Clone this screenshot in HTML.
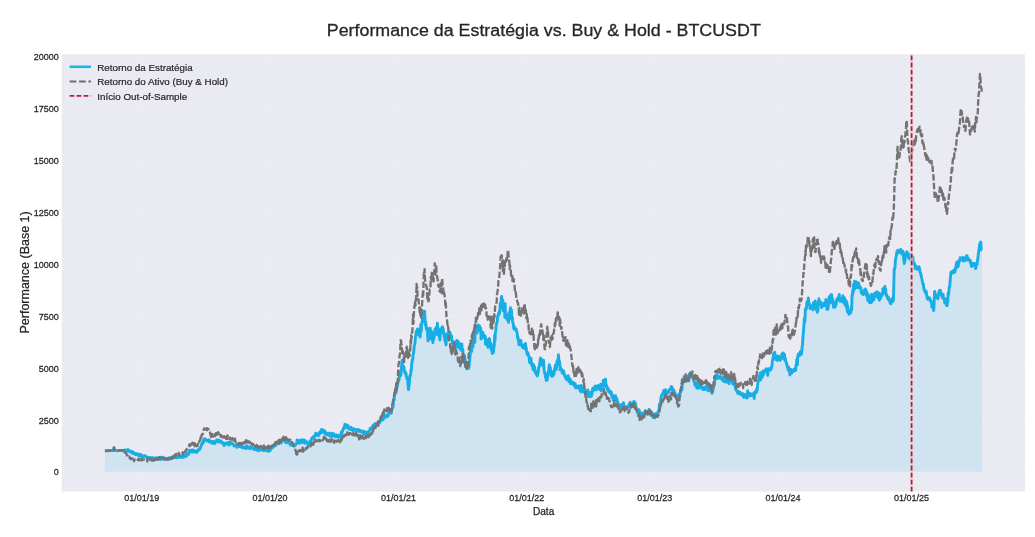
<!DOCTYPE html>
<html><head><meta charset="utf-8"><title>Performance da Estratégia vs. Buy &amp; Hold - BTCUSDT</title>
<style>html,body{margin:0;padding:0;background:#fff;overflow:hidden}svg{display:block;will-change:transform}</style></head>
<body><svg width="1035" height="537" viewBox="0 0 1035 537"><rect x="0" y="0" width="1035" height="537" fill="#ffffff"/><rect x="61.7" y="54.2" width="963.2" height="437.4" fill="#eaeaf2"/><g stroke="#ededf4" stroke-width="1"><line x1="141.70" y1="54.2" x2="141.70" y2="491.6"/><line x1="269.90" y1="54.2" x2="269.90" y2="491.6"/><line x1="398.45" y1="54.2" x2="398.45" y2="491.6"/><line x1="526.65" y1="54.2" x2="526.65" y2="491.6"/><line x1="654.85" y1="54.2" x2="654.85" y2="491.6"/><line x1="783.05" y1="54.2" x2="783.05" y2="491.6"/><line x1="911.60" y1="54.2" x2="911.60" y2="491.6"/><line x1="61.7" y1="471.70" x2="1024.9" y2="471.70"/><line x1="61.7" y1="419.81" x2="1024.9" y2="419.81"/><line x1="61.7" y1="367.93" x2="1024.9" y2="367.93"/><line x1="61.7" y1="316.04" x2="1024.9" y2="316.04"/><line x1="61.7" y1="264.15" x2="1024.9" y2="264.15"/><line x1="61.7" y1="212.26" x2="1024.9" y2="212.26"/><line x1="61.7" y1="160.38" x2="1024.9" y2="160.38"/><line x1="61.7" y1="108.49" x2="1024.9" y2="108.49"/><line x1="61.7" y1="56.60" x2="1024.9" y2="56.60"/></g><path d="M104.9,471.7 L104.9,450.7 L107.0,450.8 L110.0,450.5 L113.4,450.6 L114.0,447.6 L114.6,450.4 L117.0,450.7 L120.0,450.4 L123.2,450.4 L123.6,450.8 L123.9,451.4 L124.3,450.5 L124.7,451.1 L125.0,449.8 L125.4,450.3 L125.7,450.6 L126.1,450.9 L126.5,451.0 L126.8,451.3 L127.2,450.1 L127.5,450.6 L127.9,449.5 L128.3,450.8 L128.6,450.2 L129.0,451.3 L129.4,451.2 L129.7,451.2 L130.1,451.0 L130.4,450.9 L130.8,451.9 L131.2,451.5 L131.5,452.7 L131.9,452.5 L132.3,451.5 L132.6,453.3 L133.0,452.2 L133.4,452.6 L133.7,452.7 L134.1,453.6 L134.4,452.9 L134.8,453.6 L135.2,454.4 L135.5,453.9 L135.9,453.9 L136.2,453.7 L136.6,454.0 L137.0,454.2 L137.3,453.9 L137.7,454.5 L138.1,455.3 L138.4,454.5 L138.8,454.3 L139.1,456.1 L139.5,455.2 L139.9,454.4 L140.2,456.2 L140.6,455.3 L141.0,455.4 L141.3,454.8 L141.7,456.2 L142.1,456.0 L142.4,456.6 L142.8,456.8 L143.1,456.0 L143.5,456.2 L143.9,455.9 L144.2,456.2 L144.6,455.8 L144.9,456.3 L145.3,455.8 L145.7,457.1 L146.0,457.0 L146.4,457.1 L146.7,456.7 L147.1,457.6 L147.4,457.0 L147.7,458.0 L148.0,457.5 L148.4,457.5 L148.7,457.7 L149.0,457.5 L149.4,457.4 L149.7,457.5 L150.0,458.4 L150.3,458.4 L150.7,457.7 L151.0,458.2 L151.3,458.1 L151.7,458.3 L152.0,458.8 L152.3,457.4 L152.6,458.9 L153.0,459.0 L153.3,458.8 L153.6,458.6 L154.0,459.1 L154.3,458.1 L154.6,458.9 L155.0,458.9 L155.3,458.5 L155.6,458.6 L156.0,458.8 L156.3,457.7 L156.6,458.5 L157.0,458.0 L157.3,458.2 L157.6,458.8 L158.0,458.4 L158.3,459.2 L158.6,457.8 L159.0,458.9 L159.3,457.7 L159.6,459.1 L160.0,458.2 L160.3,458.2 L160.6,458.3 L161.0,459.6 L161.3,457.3 L161.6,458.5 L162.0,458.0 L162.3,458.6 L162.6,458.4 L163.0,457.6 L163.3,457.3 L163.6,458.7 L164.0,458.6 L164.3,458.5 L164.6,459.0 L164.9,458.5 L165.3,459.2 L165.6,458.3 L165.9,459.1 L166.3,458.9 L166.6,458.4 L166.9,458.9 L167.3,458.6 L167.6,458.5 L167.9,458.2 L168.3,459.0 L168.6,458.8 L168.9,458.1 L169.3,459.1 L169.6,458.8 L170.0,459.0 L170.3,458.1 L170.7,458.6 L171.1,457.3 L171.4,457.8 L171.8,458.5 L172.1,457.9 L172.5,457.6 L172.9,457.8 L173.2,456.6 L173.6,456.0 L173.9,457.2 L174.3,456.0 L174.7,456.6 L175.0,456.0 L175.4,456.5 L175.8,456.4 L176.1,457.8 L176.5,456.9 L176.9,457.7 L177.2,457.6 L177.6,456.1 L177.9,455.9 L178.3,456.6 L178.7,455.8 L179.0,457.3 L179.4,457.1 L179.8,455.7 L180.1,456.4 L180.5,456.8 L180.8,457.1 L181.2,456.8 L181.5,457.2 L181.9,457.2 L182.2,457.5 L182.5,456.5 L182.8,456.5 L183.2,456.2 L183.5,456.4 L183.8,456.9 L184.2,456.7 L184.5,456.8 L184.8,455.5 L185.1,454.9 L185.5,456.1 L185.8,455.9 L186.1,455.3 L186.5,456.2 L186.8,453.6 L187.1,455.3 L187.4,453.7 L187.8,453.6 L188.1,453.3 L188.4,453.9 L188.8,454.2 L189.1,451.1 L189.4,451.9 L189.7,450.1 L190.1,451.4 L190.4,450.7 L190.7,450.5 L191.1,450.9 L191.4,450.8 L191.7,452.0 L192.1,450.1 L192.4,449.7 L192.7,450.9 L193.1,450.9 L193.4,452.2 L193.7,450.4 L194.1,451.6 L194.4,450.8 L194.7,450.7 L195.1,451.1 L195.4,450.7 L195.7,451.7 L196.1,451.6 L196.4,452.5 L196.7,452.0 L197.1,451.0 L197.4,451.3 L197.8,451.0 L198.1,450.0 L198.5,450.3 L198.8,449.1 L199.2,449.0 L199.5,448.5 L199.8,449.4 L200.2,448.7 L200.6,447.0 L200.9,446.7 L201.2,445.5 L201.6,445.0 L201.9,443.6 L202.3,442.8 L202.6,442.9 L202.9,441.6 L203.3,443.0 L203.6,439.8 L204.0,439.3 L204.3,439.1 L204.7,438.6 L205.0,439.1 L205.4,440.3 L205.8,439.8 L206.1,439.8 L206.5,439.7 L206.8,440.5 L207.2,440.5 L207.6,441.1 L207.9,441.1 L208.3,441.2 L208.6,441.6 L209.0,439.8 L209.4,441.6 L209.7,441.8 L210.1,441.9 L210.5,442.1 L210.8,441.1 L211.2,442.3 L211.6,442.7 L212.0,443.1 L212.3,442.8 L212.7,442.6 L213.1,441.4 L213.5,441.4 L213.8,442.9 L214.2,443.0 L214.6,443.6 L214.9,442.9 L215.3,442.0 L215.7,441.4 L216.0,441.8 L216.3,441.9 L216.7,439.8 L217.0,440.3 L217.4,441.4 L217.8,440.4 L218.1,440.1 L218.4,439.8 L218.8,442.0 L219.1,440.6 L219.4,440.6 L219.8,442.0 L220.1,440.9 L220.4,441.5 L220.8,441.9 L221.1,441.0 L221.4,442.4 L221.8,442.5 L222.1,443.1 L222.4,442.7 L222.8,442.8 L223.1,443.2 L223.4,442.7 L223.8,444.5 L224.1,445.5 L224.4,443.6 L224.8,443.5 L225.1,444.2 L225.4,443.6 L225.8,444.1 L226.1,443.9 L226.4,444.1 L226.7,443.1 L227.1,443.6 L227.4,443.3 L227.7,443.2 L228.1,442.8 L228.4,442.2 L228.7,443.5 L229.0,445.0 L229.4,443.0 L229.7,442.4 L230.1,442.1 L230.4,443.1 L230.8,442.0 L231.1,443.9 L231.5,443.0 L231.9,443.4 L232.2,444.1 L232.6,443.9 L233.0,444.2 L233.3,444.4 L233.7,444.7 L234.1,446.1 L234.4,445.3 L234.8,445.2 L235.1,444.8 L235.5,445.3 L235.8,445.8 L236.2,445.5 L236.5,445.4 L236.8,447.3 L237.2,446.4 L237.5,446.3 L237.8,445.9 L238.2,446.4 L238.5,445.8 L238.8,445.8 L239.2,446.7 L239.5,446.6 L239.8,445.7 L240.2,446.5 L240.5,446.6 L240.8,446.7 L241.2,445.5 L241.5,447.2 L241.8,446.9 L242.2,446.8 L242.5,447.1 L242.9,447.6 L243.2,448.1 L243.6,447.6 L243.9,447.4 L244.3,447.0 L244.7,446.7 L245.0,447.1 L245.4,447.1 L245.8,448.6 L246.1,447.4 L246.5,448.2 L246.9,445.8 L247.2,447.9 L247.6,446.3 L247.9,446.6 L248.3,447.1 L248.7,448.2 L249.0,447.8 L249.4,447.7 L249.8,447.6 L250.1,448.9 L250.5,446.6 L250.8,447.3 L251.2,448.0 L251.6,447.8 L251.9,447.2 L252.3,447.8 L252.6,448.3 L253.0,448.1 L253.4,448.1 L253.7,449.3 L254.1,448.8 L254.4,449.0 L254.8,448.8 L255.1,449.3 L255.4,449.1 L255.8,449.4 L256.1,449.8 L256.5,448.5 L256.8,449.0 L257.1,449.2 L257.5,449.3 L257.8,448.2 L258.1,450.8 L258.5,448.8 L258.8,448.4 L259.2,450.4 L259.5,449.2 L259.8,449.8 L260.2,448.7 L260.5,450.4 L260.9,449.2 L261.2,448.4 L261.5,449.5 L261.9,449.6 L262.2,449.4 L262.5,449.2 L262.9,449.8 L263.2,449.3 L263.5,450.7 L263.8,448.9 L264.2,449.4 L264.5,449.8 L264.8,449.7 L265.2,449.8 L265.5,450.6 L265.8,450.8 L266.1,449.9 L266.5,450.1 L266.8,450.2 L267.1,450.3 L267.5,450.5 L267.8,449.7 L268.1,450.6 L268.4,451.4 L268.8,450.8 L269.1,450.6 L269.4,449.7 L269.8,449.2 L270.1,450.8 L270.4,448.6 L270.8,448.9 L271.1,448.8 L271.5,448.2 L271.8,447.3 L272.1,446.2 L272.5,447.8 L272.8,446.2 L273.1,445.5 L273.5,445.0 L273.8,445.9 L274.2,445.6 L274.5,445.0 L274.9,445.9 L275.2,445.4 L275.6,444.0 L276.0,445.3 L276.3,444.4 L276.7,443.9 L277.1,443.3 L277.4,442.9 L277.8,443.1 L278.2,442.5 L278.5,441.0 L278.9,443.4 L279.2,442.7 L279.6,441.9 L279.9,440.7 L280.3,442.6 L280.6,441.4 L280.9,442.0 L281.2,443.0 L281.6,440.3 L281.9,440.7 L282.2,440.4 L282.6,440.6 L282.9,438.4 L283.2,439.5 L283.5,440.1 L283.9,438.9 L284.2,439.5 L284.6,439.6 L284.9,440.0 L285.3,442.3 L285.6,441.8 L286.0,442.4 L286.4,442.2 L286.7,442.8 L287.1,441.2 L287.5,441.2 L287.8,442.3 L288.2,441.3 L288.6,441.5 L288.9,442.4 L289.3,440.4 L289.6,443.6 L290.0,443.0 L290.3,445.1 L290.7,442.3 L291.0,444.3 L291.3,443.7 L291.6,442.5 L292.0,445.4 L292.3,444.4 L292.6,443.7 L293.0,444.9 L293.3,443.8 L293.6,445.5 L293.9,445.5 L294.3,445.3 L294.6,445.9 L295.0,445.5 L295.3,445.2 L295.7,444.3 L296.0,443.9 L296.4,443.6 L296.7,443.8 L297.1,439.9 L297.4,441.7 L297.8,440.7 L298.1,441.3 L298.5,441.7 L298.8,440.5 L299.2,442.0 L299.6,443.2 L299.9,440.8 L300.3,442.3 L300.6,440.3 L301.0,441.3 L301.4,442.7 L301.7,440.7 L302.1,441.9 L302.4,439.7 L302.8,440.9 L303.2,442.3 L303.5,441.1 L303.9,441.3 L304.2,439.9 L304.6,443.2 L304.9,441.5 L305.2,442.7 L305.6,440.9 L305.9,442.2 L306.2,443.1 L306.6,442.3 L306.9,442.1 L307.3,443.3 L307.6,443.6 L307.9,444.3 L308.3,445.2 L308.6,444.8 L308.9,443.2 L309.3,443.3 L309.6,444.0 L309.9,441.1 L310.2,442.9 L310.6,441.3 L310.9,440.8 L311.2,440.6 L311.6,438.5 L311.9,439.4 L312.2,438.7 L312.5,437.6 L312.9,437.3 L313.2,436.7 L313.6,436.7 L313.9,437.7 L314.3,435.9 L314.6,437.1 L315.0,436.4 L315.4,435.7 L315.7,433.3 L316.1,434.9 L316.5,434.1 L316.8,434.8 L317.2,435.1 L317.6,435.3 L317.9,434.8 L318.3,435.7 L318.6,433.5 L319.0,433.2 L319.3,432.6 L319.7,434.1 L320.0,432.3 L320.3,431.7 L320.7,431.8 L321.0,431.8 L321.3,429.6 L321.7,432.5 L322.0,429.8 L322.3,431.3 L322.7,431.0 L323.0,430.3 L323.4,430.0 L323.7,430.9 L324.1,431.8 L324.4,433.0 L324.8,432.3 L325.2,431.3 L325.5,433.9 L325.9,433.2 L326.3,434.5 L326.6,433.1 L327.0,433.8 L327.3,433.7 L327.7,434.5 L328.0,433.9 L328.4,435.1 L328.7,433.2 L329.1,435.2 L329.5,433.3 L329.8,434.0 L330.2,434.6 L330.5,436.4 L330.9,434.7 L331.2,434.6 L331.6,436.3 L331.9,433.1 L332.3,435.3 L332.6,435.6 L333.0,436.2 L333.3,434.7 L333.7,433.7 L334.0,435.3 L334.4,434.7 L334.7,436.0 L335.0,435.6 L335.4,434.9 L335.7,437.0 L336.1,435.3 L336.4,435.6 L336.7,434.9 L337.1,436.9 L337.4,435.6 L337.8,436.0 L338.1,436.6 L338.4,435.3 L338.8,437.3 L339.1,436.4 L339.5,436.9 L339.8,436.7 L340.2,436.9 L340.5,436.3 L340.8,435.6 L341.2,432.1 L341.5,433.0 L341.9,433.6 L342.2,431.2 L342.6,431.2 L342.9,430.0 L343.2,428.7 L343.6,428.9 L343.9,428.5 L344.3,426.9 L344.6,426.1 L344.9,424.2 L345.3,427.4 L345.6,427.1 L346.0,426.3 L346.3,426.1 L346.6,426.8 L347.0,427.3 L347.3,425.0 L347.6,428.2 L348.0,426.8 L348.3,426.1 L348.7,427.4 L349.0,427.7 L349.3,428.4 L349.7,429.4 L350.0,428.4 L350.4,429.3 L350.7,428.1 L351.0,427.4 L351.4,428.7 L351.7,428.0 L352.1,430.0 L352.4,430.5 L352.8,428.8 L353.1,428.7 L353.5,430.0 L353.8,430.5 L354.1,429.8 L354.5,429.0 L354.8,429.5 L355.2,429.4 L355.5,430.0 L355.9,430.1 L356.2,429.9 L356.6,431.1 L356.9,430.2 L357.3,430.6 L357.6,429.5 L358.0,429.9 L358.4,429.6 L358.7,430.9 L359.1,431.6 L359.4,430.9 L359.8,430.6 L360.2,430.5 L360.5,431.4 L360.9,431.5 L361.3,431.3 L361.6,432.2 L362.0,431.7 L362.4,431.7 L362.7,432.3 L363.1,432.6 L363.5,431.1 L363.8,434.2 L364.2,433.4 L364.6,432.4 L364.9,433.1 L365.3,433.3 L365.6,431.8 L366.0,433.0 L366.4,434.1 L366.7,433.1 L367.1,433.2 L367.4,433.3 L367.8,432.1 L368.1,433.5 L368.5,431.5 L368.8,432.3 L369.2,430.8 L369.5,430.7 L369.9,429.8 L370.2,428.2 L370.5,429.4 L370.9,428.0 L371.2,428.5 L371.6,428.6 L371.9,428.7 L372.3,426.7 L372.6,426.4 L373.0,425.4 L373.3,426.1 L373.6,426.6 L374.0,425.5 L374.3,426.4 L374.7,423.9 L375.0,423.5 L375.3,424.7 L375.7,424.0 L376.0,424.3 L376.4,424.7 L376.7,424.4 L377.0,424.0 L377.4,423.4 L377.7,423.3 L378.0,422.8 L378.4,421.6 L378.7,422.2 L379.1,421.3 L379.4,422.0 L379.7,422.6 L380.1,420.3 L380.4,421.4 L380.8,419.9 L381.1,420.5 L381.5,419.9 L381.8,418.7 L382.2,418.8 L382.5,415.6 L382.8,419.8 L383.2,419.5 L383.5,417.9 L383.9,417.1 L384.2,417.9 L384.6,417.3 L384.9,416.7 L385.3,414.8 L385.6,415.8 L385.9,415.2 L386.2,417.1 L386.6,417.1 L386.9,415.7 L387.2,416.4 L387.6,415.6 L387.9,415.3 L388.3,415.9 L388.7,412.6 L389.1,413.5 L389.4,413.0 L389.8,411.8 L390.2,411.7 L390.6,412.0 L390.9,413.1 L391.3,413.2 L391.7,409.7 L392.0,409.6 L392.4,406.0 L392.7,404.0 L393.1,407.0 L393.4,401.9 L393.7,399.0 L394.1,400.1 L394.4,395.3 L394.8,393.5 L395.1,394.0 L395.4,393.3 L395.8,393.1 L396.1,391.4 L396.4,389.5 L396.8,387.3 L397.1,382.8 L397.4,386.1 L397.7,382.0 L398.1,382.6 L398.4,380.6 L398.7,377.9 L399.1,380.0 L399.4,375.8 L399.8,374.6 L400.1,371.6 L400.4,372.1 L400.8,375.5 L401.1,370.5 L401.5,367.8 L401.8,362.7 L402.2,360.3 L402.5,366.2 L402.9,365.9 L403.3,366.0 L403.6,367.4 L404.0,367.2 L404.3,372.0 L404.7,371.9 L405.0,371.6 L405.3,371.7 L405.6,374.0 L406.0,373.1 L406.3,376.1 L406.7,377.5 L407.0,378.8 L407.4,377.9 L407.8,381.8 L408.1,385.2 L408.5,389.5 L408.9,386.2 L409.2,385.4 L409.6,379.0 L410.0,375.4 L410.3,376.3 L410.7,373.9 L411.0,369.9 L411.4,370.5 L411.7,362.7 L412.0,362.8 L412.3,359.6 L412.7,359.8 L413.0,356.0 L413.4,352.3 L413.7,353.0 L414.1,346.6 L414.5,345.3 L414.8,344.3 L415.2,340.3 L415.5,336.5 L415.9,335.2 L416.2,331.4 L416.5,334.2 L416.8,333.9 L417.2,329.7 L417.5,329.1 L417.9,328.9 L418.2,331.2 L418.6,334.5 L419.0,330.0 L419.3,333.3 L419.7,335.8 L420.1,337.0 L420.4,332.9 L420.8,324.5 L421.2,331.2 L421.5,324.7 L421.9,322.4 L422.2,322.4 L422.6,316.5 L422.9,317.1 L423.2,316.8 L423.5,311.4 L423.9,312.6 L424.2,311.2 L424.6,311.2 L424.9,316.9 L425.3,324.9 L425.7,322.0 L426.0,325.3 L426.4,329.1 L426.7,329.2 L427.1,330.2 L427.4,327.9 L427.7,335.9 L428.0,340.9 L428.4,338.0 L428.7,338.1 L429.1,339.4 L429.5,333.9 L429.9,332.3 L430.3,328.3 L430.6,337.0 L431.0,334.0 L431.4,331.0 L431.8,335.9 L432.1,339.8 L432.5,333.8 L432.9,342.6 L433.2,337.8 L433.6,339.5 L433.9,337.6 L434.3,336.5 L434.6,332.7 L435.0,329.3 L435.3,331.7 L435.7,331.9 L436.0,327.4 L436.4,329.3 L436.7,333.3 L437.1,334.5 L437.4,323.2 L437.8,331.6 L438.2,328.2 L438.5,329.8 L438.9,331.8 L439.2,336.7 L439.6,335.9 L439.9,340.0 L440.3,333.1 L440.6,332.4 L441.0,329.0 L441.3,331.4 L441.7,332.3 L442.0,327.4 L442.4,326.8 L442.7,328.0 L443.1,328.3 L443.4,330.4 L443.8,334.6 L444.2,337.1 L444.5,337.9 L444.9,340.4 L445.2,337.1 L445.6,341.9 L446.0,344.9 L446.3,337.5 L446.7,333.8 L447.1,338.9 L447.5,337.1 L447.8,339.4 L448.2,337.5 L448.6,338.0 L448.9,333.7 L449.3,332.3 L449.7,334.5 L450.0,332.2 L450.4,337.9 L450.7,335.7 L451.1,338.4 L451.5,335.6 L451.8,340.0 L452.2,340.3 L452.5,342.4 L452.9,344.4 L453.2,345.7 L453.6,343.2 L453.9,343.3 L454.3,347.4 L454.6,342.0 L455.0,343.1 L455.3,343.1 L455.6,341.6 L456.0,343.3 L456.3,347.4 L456.7,343.7 L457.0,340.5 L457.4,341.2 L457.7,341.9 L458.1,341.3 L458.4,343.1 L458.8,344.0 L459.2,347.8 L459.5,344.4 L459.9,343.8 L460.3,346.5 L460.7,348.8 L461.0,350.3 L461.4,346.8 L461.8,343.9 L462.1,347.9 L462.5,350.4 L462.8,349.2 L463.2,354.1 L463.6,358.4 L463.9,356.1 L464.3,358.2 L464.6,355.3 L465.0,361.3 L465.3,359.8 L465.7,365.5 L466.0,366.1 L466.4,366.4 L466.7,362.5 L467.1,368.9 L467.4,368.6 L467.8,364.4 L468.1,366.5 L468.4,363.4 L468.8,368.2 L469.2,364.9 L469.5,362.0 L469.9,357.7 L470.2,354.4 L470.6,346.3 L470.9,348.8 L471.2,346.6 L471.6,351.5 L471.9,345.2 L472.3,346.8 L472.7,343.5 L473.0,347.0 L473.4,338.1 L473.7,340.0 L474.1,339.6 L474.5,333.8 L474.8,342.4 L475.2,330.5 L475.5,330.5 L475.9,332.3 L476.3,327.3 L476.7,330.7 L477.0,333.1 L477.4,325.4 L477.8,326.1 L478.2,324.9 L478.5,330.5 L478.9,325.7 L479.3,326.7 L479.7,326.0 L480.0,330.8 L480.4,331.3 L480.7,328.2 L481.1,339.1 L481.4,337.2 L481.7,332.0 L482.0,333.0 L482.4,333.9 L482.7,335.0 L483.0,332.4 L483.3,337.6 L483.7,336.1 L484.0,335.3 L484.3,336.5 L484.6,337.6 L485.0,335.8 L485.3,336.5 L485.6,344.4 L486.0,339.3 L486.3,342.6 L486.7,343.5 L487.0,344.4 L487.4,342.5 L487.7,346.1 L488.1,347.4 L488.5,340.6 L488.9,338.9 L489.2,338.5 L489.6,339.1 L489.9,343.2 L490.2,342.8 L490.6,342.9 L490.9,343.7 L491.2,350.0 L491.6,345.6 L491.9,346.0 L492.2,353.5 L492.5,346.8 L492.9,352.0 L493.2,352.7 L493.5,352.2 L493.9,346.4 L494.2,346.1 L494.6,335.4 L495.0,340.6 L495.4,332.1 L495.7,332.0 L496.1,326.1 L496.5,323.8 L496.8,322.8 L497.2,322.2 L497.6,316.5 L498.0,315.3 L498.3,315.9 L498.7,313.0 L499.1,312.1 L499.4,313.8 L499.8,310.5 L500.2,303.5 L500.6,302.9 L500.9,304.4 L501.3,297.4 L501.7,296.4 L502.0,308.0 L502.4,304.3 L502.8,299.9 L503.2,310.6 L503.5,309.8 L503.9,310.4 L504.2,310.0 L504.6,310.2 L504.9,317.4 L505.2,303.6 L505.5,316.1 L505.9,314.4 L506.2,316.1 L506.5,315.4 L506.8,318.5 L507.2,319.5 L507.5,317.0 L507.8,318.3 L508.2,317.1 L508.5,322.4 L508.9,312.6 L509.3,318.6 L509.7,312.4 L510.0,311.7 L510.4,307.8 L510.8,310.9 L511.1,312.2 L511.5,310.0 L511.9,319.8 L512.3,317.3 L512.6,320.7 L513.0,323.5 L513.3,323.7 L513.7,328.5 L514.0,326.1 L514.4,329.3 L514.7,327.9 L515.0,329.1 L515.4,329.6 L515.7,328.7 L516.1,329.0 L516.4,331.4 L516.8,331.7 L517.2,333.1 L517.6,338.2 L517.9,336.7 L518.3,339.1 L518.6,341.4 L518.9,344.7 L519.3,340.2 L519.6,342.1 L519.9,344.6 L520.2,343.1 L520.6,342.0 L520.9,340.4 L521.2,344.9 L521.6,344.8 L521.9,345.3 L522.2,347.0 L522.6,345.3 L522.9,346.9 L523.3,347.9 L523.7,347.6 L524.1,345.0 L524.4,347.4 L524.8,344.4 L525.1,348.9 L525.5,343.4 L525.8,347.1 L526.2,347.6 L526.5,350.5 L526.9,353.1 L527.2,353.6 L527.5,354.8 L527.9,352.7 L528.2,354.5 L528.6,355.9 L528.9,357.0 L529.2,357.1 L529.6,362.5 L529.9,358.1 L530.3,360.9 L530.6,360.3 L530.9,358.2 L531.3,361.9 L531.6,365.0 L531.9,364.5 L532.2,363.6 L532.6,366.8 L532.9,368.6 L533.2,369.7 L533.6,364.8 L533.9,367.0 L534.2,368.7 L534.6,366.8 L534.9,370.0 L535.3,372.7 L535.6,371.5 L535.9,371.8 L536.3,371.7 L536.6,375.1 L537.0,374.3 L537.3,376.0 L537.6,374.4 L538.0,371.6 L538.3,372.5 L538.6,367.8 L539.0,367.1 L539.3,366.3 L539.6,363.9 L539.9,362.2 L540.3,358.9 L540.6,358.1 L540.9,362.7 L541.3,360.6 L541.6,359.5 L541.9,365.1 L542.2,360.7 L542.6,364.8 L542.9,362.6 L543.2,364.1 L543.6,360.3 L543.9,367.5 L544.2,370.9 L544.5,371.5 L544.9,374.1 L545.2,373.0 L545.5,377.4 L545.9,376.6 L546.2,380.4 L546.5,380.2 L546.9,378.9 L547.2,380.2 L547.6,374.8 L547.9,373.7 L548.2,376.0 L548.6,370.3 L548.9,368.2 L549.3,364.8 L549.6,367.0 L549.9,366.8 L550.3,367.6 L550.6,369.7 L550.9,371.3 L551.2,371.5 L551.6,376.0 L551.9,376.2 L552.2,371.8 L552.6,372.7 L552.9,376.0 L553.3,373.4 L553.6,373.2 L554.0,374.4 L554.4,370.8 L554.8,367.8 L555.1,368.1 L555.5,364.9 L555.9,364.9 L556.3,369.6 L556.6,366.3 L557.0,361.1 L557.4,360.3 L557.7,360.6 L558.1,362.3 L558.4,354.8 L558.8,358.9 L559.1,364.8 L559.4,365.3 L559.8,361.8 L560.1,370.0 L560.5,367.4 L560.8,369.3 L561.2,370.0 L561.5,369.9 L561.9,369.5 L562.3,373.1 L562.6,372.3 L563.0,372.6 L563.4,371.8 L563.7,371.0 L564.1,374.5 L564.5,374.5 L564.8,376.3 L565.2,376.0 L565.6,378.0 L566.0,378.1 L566.3,376.8 L566.7,379.8 L567.1,377.8 L567.5,378.2 L567.8,377.1 L568.2,375.7 L568.6,378.4 L569.0,381.6 L569.3,378.2 L569.7,380.4 L570.1,379.1 L570.5,383.9 L570.8,380.4 L571.2,381.6 L571.6,381.6 L572.0,382.6 L572.3,382.4 L572.7,383.9 L573.1,384.4 L573.5,383.6 L573.8,382.7 L574.2,384.9 L574.5,383.6 L574.9,386.7 L575.2,383.8 L575.6,387.6 L575.9,387.5 L576.3,387.9 L576.6,386.3 L577.0,386.6 L577.3,387.7 L577.6,386.1 L578.0,386.8 L578.3,386.1 L578.7,386.0 L579.0,386.9 L579.4,388.0 L579.7,388.3 L580.1,390.9 L580.5,388.4 L580.8,391.8 L581.2,385.5 L581.6,386.3 L582.0,390.0 L582.3,391.2 L582.7,390.7 L583.1,388.9 L583.5,392.0 L583.8,390.7 L584.2,391.6 L584.5,389.4 L584.9,390.7 L585.2,393.1 L585.6,391.8 L585.9,392.1 L586.2,390.6 L586.6,392.7 L586.9,393.3 L587.3,394.1 L587.6,392.7 L587.9,390.0 L588.3,396.6 L588.6,394.2 L588.9,393.1 L589.2,393.3 L589.6,396.3 L589.9,394.0 L590.2,395.8 L590.6,392.4 L590.9,393.9 L591.2,396.6 L591.6,394.1 L591.9,394.6 L592.3,389.8 L592.6,391.6 L592.9,388.2 L593.3,390.0 L593.6,390.2 L594.0,389.9 L594.3,389.4 L594.7,388.0 L595.0,386.1 L595.4,389.2 L595.8,386.0 L596.1,390.0 L596.5,388.2 L596.9,387.4 L597.2,387.7 L597.6,386.7 L598.0,385.9 L598.3,385.4 L598.7,387.1 L599.0,387.4 L599.4,389.5 L599.7,388.5 L600.0,388.4 L600.4,386.7 L600.7,384.3 L601.0,386.8 L601.3,390.9 L601.7,387.0 L602.0,386.3 L602.3,384.2 L602.6,384.9 L603.0,384.7 L603.3,380.4 L603.6,383.4 L603.9,384.2 L604.2,385.8 L604.6,380.8 L604.9,379.7 L605.2,380.4 L605.5,379.2 L605.9,384.5 L606.2,386.5 L606.5,385.4 L606.9,387.3 L607.2,387.6 L607.6,390.1 L607.9,387.9 L608.3,389.8 L608.7,391.8 L609.1,390.2 L609.4,392.2 L609.8,392.8 L610.1,392.6 L610.4,391.3 L610.8,391.6 L611.1,391.9 L611.4,394.8 L611.7,393.7 L612.0,397.5 L612.4,396.1 L612.7,395.1 L613.0,396.7 L613.3,400.2 L613.7,398.5 L614.0,399.1 L614.3,400.1 L614.6,397.4 L615.0,399.9 L615.3,396.9 L615.6,395.6 L616.0,399.4 L616.3,398.0 L616.6,398.3 L617.0,399.0 L617.3,401.9 L617.6,401.4 L618.0,403.8 L618.3,405.8 L618.6,404.9 L618.9,408.3 L619.3,404.6 L619.6,405.6 L619.9,406.3 L620.2,405.8 L620.6,406.3 L620.9,405.7 L621.2,404.7 L621.6,407.4 L621.9,404.6 L622.2,405.8 L622.5,406.5 L622.9,407.5 L623.2,404.8 L623.5,402.8 L623.8,405.1 L624.2,406.5 L624.5,407.9 L624.8,409.0 L625.1,407.7 L625.5,406.7 L625.8,406.7 L626.1,407.2 L626.5,408.4 L626.8,406.6 L627.2,406.6 L627.6,406.8 L628.0,406.9 L628.3,406.6 L628.7,406.5 L629.1,403.9 L629.4,404.9 L629.8,405.3 L630.2,402.3 L630.6,407.6 L630.9,407.0 L631.3,405.8 L631.6,406.9 L631.9,406.8 L632.3,404.0 L632.6,405.6 L632.9,405.2 L633.2,404.9 L633.6,401.8 L633.9,406.5 L634.2,401.5 L634.6,402.3 L634.9,404.6 L635.2,403.9 L635.6,403.4 L635.9,407.5 L636.3,408.5 L636.7,410.1 L637.1,410.5 L637.4,412.5 L637.8,412.4 L638.1,410.9 L638.4,411.5 L638.8,413.5 L639.1,409.6 L639.4,414.2 L639.8,413.7 L640.1,414.5 L640.4,412.2 L640.7,414.8 L641.1,414.5 L641.4,415.9 L641.7,415.0 L642.1,414.7 L642.4,414.4 L642.8,415.3 L643.1,414.3 L643.5,413.0 L643.9,413.9 L644.2,412.4 L644.6,413.3 L645.0,413.4 L645.3,414.4 L645.7,412.6 L646.0,412.8 L646.4,412.8 L646.8,412.5 L647.1,411.5 L647.5,412.0 L647.8,413.4 L648.2,411.7 L648.5,411.7 L648.9,409.4 L649.2,409.4 L649.5,413.2 L649.9,412.4 L650.2,413.0 L650.5,414.1 L650.9,411.4 L651.2,414.9 L651.5,412.0 L651.9,415.3 L652.2,414.3 L652.5,415.9 L652.9,415.3 L653.2,417.6 L653.5,414.4 L653.8,415.7 L654.2,415.3 L654.5,416.6 L654.8,417.8 L655.1,413.7 L655.5,416.2 L655.8,415.7 L656.1,416.3 L656.5,414.7 L656.8,415.8 L657.2,414.3 L657.6,413.6 L658.0,411.6 L658.3,412.4 L658.7,411.1 L659.1,409.0 L659.4,404.2 L659.8,405.0 L660.2,404.6 L660.6,402.3 L660.9,398.0 L661.3,396.7 L661.6,395.4 L661.9,395.6 L662.3,394.1 L662.6,394.6 L662.9,393.4 L663.2,394.1 L663.6,390.6 L663.9,390.5 L664.2,394.0 L664.6,392.0 L664.9,391.0 L665.2,391.5 L665.6,389.7 L665.9,390.9 L666.3,391.6 L666.7,394.2 L667.1,391.9 L667.4,392.9 L667.8,392.8 L668.1,391.9 L668.5,392.5 L668.8,392.4 L669.1,390.0 L669.5,389.9 L669.8,389.2 L670.1,389.6 L670.4,389.0 L670.8,388.0 L671.1,386.9 L671.4,386.5 L671.7,388.3 L672.1,390.0 L672.4,387.8 L672.7,389.2 L673.0,389.4 L673.3,392.9 L673.7,392.4 L674.0,390.2 L674.3,391.5 L674.6,393.8 L674.9,393.0 L675.3,394.0 L675.6,395.1 L675.9,394.3 L676.2,396.1 L676.6,396.6 L676.9,396.4 L677.2,398.2 L677.6,399.3 L677.9,400.5 L678.2,400.6 L678.6,399.5 L678.9,396.6 L679.3,393.8 L679.7,396.1 L680.1,393.0 L680.4,392.0 L680.8,390.2 L681.2,389.3 L681.5,389.7 L681.9,389.8 L682.3,383.6 L682.7,383.7 L683.0,381.6 L683.4,379.8 L683.7,379.7 L684.1,376.6 L684.4,379.3 L684.7,376.3 L685.1,377.9 L685.4,379.1 L685.7,381.5 L686.1,379.2 L686.4,380.2 L686.7,376.9 L687.1,380.1 L687.4,378.5 L687.7,375.9 L688.0,378.3 L688.4,379.7 L688.7,377.8 L689.0,374.4 L689.3,375.9 L689.7,374.4 L690.0,373.1 L690.3,376.9 L690.6,372.8 L691.0,374.3 L691.3,373.3 L691.7,376.5 L692.0,375.8 L692.4,376.2 L692.8,377.9 L693.2,378.9 L693.5,378.6 L693.9,381.1 L694.2,381.9 L694.5,382.3 L694.9,385.0 L695.2,385.3 L695.5,383.4 L695.8,383.1 L696.2,385.1 L696.5,383.0 L696.8,388.1 L697.1,383.0 L697.5,385.7 L697.8,385.0 L698.1,386.7 L698.5,388.4 L698.8,387.7 L699.1,386.1 L699.4,387.5 L699.8,386.6 L700.1,384.6 L700.5,385.7 L700.8,386.4 L701.2,387.1 L701.5,387.9 L701.8,387.8 L702.2,387.2 L702.5,387.3 L702.9,389.4 L703.2,388.1 L703.5,389.5 L703.9,388.0 L704.2,387.4 L704.6,388.7 L704.9,389.6 L705.2,387.1 L705.6,387.9 L705.9,388.2 L706.3,387.7 L706.6,385.5 L707.0,385.9 L707.3,386.1 L707.7,384.4 L708.0,390.9 L708.4,385.7 L708.8,386.8 L709.1,388.8 L709.5,390.0 L709.8,389.1 L710.2,390.2 L710.6,388.3 L710.9,391.4 L711.3,388.0 L711.7,391.3 L712.0,393.4 L712.4,392.2 L712.8,390.7 L713.2,389.3 L713.6,385.6 L714.0,384.0 L714.3,385.3 L714.7,381.3 L715.1,377.2 L715.5,375.8 L715.9,375.2 L716.2,377.2 L716.6,376.8 L717.0,378.6 L717.3,374.9 L717.7,377.8 L718.0,376.9 L718.4,376.7 L718.8,377.8 L719.1,377.6 L719.5,376.6 L719.9,378.3 L720.2,378.1 L720.6,377.9 L721.0,377.8 L721.3,376.6 L721.7,377.6 L722.1,379.5 L722.4,380.2 L722.8,378.2 L723.2,378.4 L723.5,377.5 L723.9,379.7 L724.2,381.7 L724.6,381.0 L725.0,378.0 L725.3,377.6 L725.7,378.9 L726.1,378.1 L726.4,382.1 L726.8,378.9 L727.2,380.8 L727.6,382.1 L727.9,380.3 L728.3,379.9 L728.7,380.2 L729.0,383.7 L729.4,377.7 L729.8,377.8 L730.2,381.3 L730.5,380.0 L730.9,380.9 L731.2,379.9 L731.6,378.6 L731.9,381.7 L732.2,378.1 L732.6,384.0 L732.9,377.3 L733.2,381.5 L733.6,379.6 L733.9,380.9 L734.2,382.5 L734.6,385.5 L735.0,385.4 L735.3,385.9 L735.6,388.8 L736.0,390.2 L736.3,390.1 L736.7,390.8 L737.0,390.4 L737.4,391.1 L737.7,393.2 L738.0,391.2 L738.4,392.2 L738.7,392.5 L739.1,393.4 L739.4,392.2 L739.8,392.8 L740.1,392.2 L740.4,392.8 L740.8,394.6 L741.1,394.0 L741.5,393.7 L741.8,393.8 L742.2,394.2 L742.5,395.5 L742.8,393.6 L743.2,394.9 L743.5,395.9 L743.9,397.4 L744.2,396.3 L744.5,394.7 L744.9,394.4 L745.2,397.1 L745.6,396.4 L745.9,396.2 L746.2,395.3 L746.6,395.3 L746.9,398.1 L747.3,397.1 L747.6,390.7 L748.0,394.9 L748.3,394.3 L748.7,396.4 L749.0,393.0 L749.4,393.9 L749.8,394.8 L750.1,395.5 L750.5,393.8 L750.8,394.8 L751.2,395.5 L751.6,394.3 L751.9,394.1 L752.3,394.0 L752.7,395.4 L753.0,395.6 L753.4,395.3 L753.8,393.5 L754.2,398.5 L754.6,392.2 L755.0,393.8 L755.3,392.8 L755.7,391.5 L756.1,390.0 L756.5,392.2 L756.8,389.0 L757.2,390.5 L757.5,386.1 L757.8,383.5 L758.2,381.3 L758.5,380.2 L758.8,379.8 L759.2,377.6 L759.5,375.8 L759.8,375.8 L760.2,373.0 L760.5,380.1 L760.9,376.4 L761.2,377.1 L761.5,374.8 L761.9,372.3 L762.2,377.2 L762.6,374.5 L762.9,371.2 L763.3,374.8 L763.6,373.8 L764.0,371.8 L764.4,371.0 L764.8,370.3 L765.2,371.8 L765.5,370.8 L765.9,370.6 L766.3,368.8 L766.7,369.7 L767.0,370.2 L767.4,369.8 L767.7,375.4 L768.1,372.1 L768.4,368.7 L768.8,369.7 L769.1,369.4 L769.4,369.5 L769.8,370.3 L770.1,369.8 L770.5,369.7 L770.8,369.7 L771.2,367.0 L771.6,367.9 L772.0,365.7 L772.3,361.5 L772.7,359.2 L773.1,358.5 L773.5,353.9 L773.9,353.3 L774.3,354.0 L774.7,352.2 L775.1,355.1 L775.5,356.4 L775.8,359.5 L776.2,358.0 L776.6,356.8 L777.0,359.4 L777.3,360.4 L777.7,356.0 L778.0,357.0 L778.4,358.4 L778.7,356.1 L779.0,358.4 L779.4,359.1 L779.7,356.9 L780.1,360.3 L780.4,359.9 L780.8,356.9 L781.1,357.4 L781.4,358.3 L781.8,353.9 L782.1,354.3 L782.4,355.4 L782.8,355.0 L783.1,352.9 L783.4,358.6 L783.8,353.6 L784.1,354.0 L784.5,354.6 L784.9,360.3 L785.3,358.5 L785.7,360.1 L786.0,362.3 L786.4,362.7 L786.8,364.1 L787.2,366.3 L787.5,367.3 L787.9,367.4 L788.2,370.1 L788.6,367.0 L788.9,369.9 L789.2,369.4 L789.6,369.3 L789.9,375.0 L790.3,372.9 L790.6,369.3 L791.0,371.9 L791.3,372.5 L791.6,373.1 L792.0,372.1 L792.3,370.9 L792.7,370.3 L793.0,371.7 L793.3,371.5 L793.7,369.4 L794.0,370.7 L794.4,369.1 L794.7,369.9 L795.1,369.0 L795.4,370.5 L795.7,370.0 L796.1,364.7 L796.4,365.0 L796.7,360.6 L797.1,358.8 L797.4,364.6 L797.7,357.8 L798.1,354.9 L798.4,354.0 L798.8,355.9 L799.2,355.7 L799.6,355.2 L800.0,354.0 L800.3,351.7 L800.7,354.8 L801.1,353.6 L801.5,354.0 L801.9,349.8 L802.2,346.1 L802.5,345.8 L802.9,337.4 L803.2,334.6 L803.6,329.4 L803.9,325.8 L804.3,319.3 L804.6,317.8 L804.9,321.7 L805.3,310.2 L805.6,308.9 L806.0,308.2 L806.3,309.1 L806.7,304.6 L807.0,301.8 L807.4,303.8 L807.7,301.8 L808.0,301.3 L808.4,298.0 L808.7,301.6 L809.0,304.0 L809.4,304.8 L809.7,304.0 L810.0,308.6 L810.4,307.8 L810.7,307.9 L811.1,307.0 L811.5,308.3 L811.9,306.4 L812.2,305.9 L812.6,305.4 L813.0,309.8 L813.4,302.7 L813.8,303.8 L814.1,308.1 L814.5,305.0 L814.8,306.3 L815.2,301.0 L815.5,308.1 L815.8,307.4 L816.2,308.4 L816.5,309.9 L816.9,310.2 L817.2,312.3 L817.6,307.2 L817.9,311.0 L818.2,302.1 L818.6,303.6 L818.9,298.7 L819.3,304.3 L819.7,301.4 L820.1,301.8 L820.5,302.8 L820.8,302.1 L821.2,303.6 L821.6,307.5 L822.0,306.9 L822.4,305.0 L822.8,303.8 L823.2,303.8 L823.5,304.9 L823.9,303.1 L824.3,305.6 L824.7,303.9 L825.1,302.8 L825.5,303.9 L825.9,299.4 L826.3,306.0 L826.7,304.9 L827.0,309.3 L827.4,304.2 L827.8,309.2 L828.2,306.9 L828.5,304.0 L828.9,299.0 L829.2,296.6 L829.5,297.0 L829.9,299.9 L830.2,302.8 L830.5,297.1 L830.9,294.6 L831.2,294.6 L831.6,294.6 L832.0,297.5 L832.4,300.2 L832.8,299.7 L833.1,303.8 L833.5,307.2 L833.9,306.0 L834.3,304.8 L834.6,303.3 L835.0,304.1 L835.3,307.0 L835.7,302.3 L836.0,304.8 L836.3,301.8 L836.7,300.0 L837.0,299.0 L837.4,299.3 L837.7,298.1 L838.1,299.0 L838.4,298.7 L838.8,300.1 L839.2,294.4 L839.6,300.0 L840.0,299.2 L840.3,301.6 L840.7,298.5 L841.1,299.1 L841.5,299.7 L841.8,300.4 L842.2,300.8 L842.5,299.6 L842.9,295.6 L843.2,302.5 L843.5,300.2 L843.9,300.9 L844.2,297.4 L844.6,298.5 L844.9,304.6 L845.3,299.9 L845.6,300.7 L845.9,300.4 L846.3,307.2 L846.6,305.3 L846.9,302.1 L847.3,311.9 L847.6,305.9 L847.9,309.1 L848.3,310.2 L848.6,311.0 L849.0,314.3 L849.3,312.8 L849.7,311.8 L850.0,311.6 L850.4,311.5 L850.7,313.0 L851.0,310.8 L851.4,307.2 L851.7,309.6 L852.0,295.1 L852.4,295.3 L852.7,290.5 L853.1,292.7 L853.5,284.7 L853.9,288.2 L854.2,286.4 L854.6,281.1 L855.0,289.0 L855.4,282.7 L855.8,282.3 L856.2,281.8 L856.6,287.4 L857.0,284.1 L857.3,283.3 L857.7,282.8 L858.1,287.9 L858.5,282.9 L858.9,284.3 L859.3,286.4 L859.7,287.8 L860.1,287.1 L860.5,288.4 L860.8,287.3 L861.2,292.2 L861.6,293.4 L862.0,292.5 L862.3,291.7 L862.7,292.5 L863.0,294.5 L863.3,294.6 L863.7,293.1 L864.0,290.8 L864.3,291.9 L864.7,289.6 L865.0,290.5 L865.4,289.0 L865.8,293.5 L866.2,290.3 L866.5,295.6 L866.9,294.9 L867.3,292.8 L867.7,300.4 L868.1,300.7 L868.5,300.2 L868.9,295.5 L869.3,302.5 L869.7,301.8 L870.0,301.9 L870.4,300.8 L870.8,301.4 L871.2,302.8 L871.6,294.3 L872.0,301.7 L872.4,299.9 L872.8,298.7 L873.1,298.3 L873.5,296.3 L873.9,299.7 L874.3,294.6 L874.6,294.0 L875.0,293.0 L875.3,295.5 L875.6,294.4 L876.0,296.3 L876.3,295.9 L876.6,292.7 L877.0,291.8 L877.3,294.6 L877.6,294.6 L878.0,297.6 L878.3,296.5 L878.6,297.9 L879.0,293.0 L879.3,300.2 L879.6,294.7 L880.0,294.3 L880.3,298.8 L880.6,297.8 L880.9,294.2 L881.3,295.5 L881.6,295.6 L881.9,295.8 L882.2,293.8 L882.6,294.4 L882.9,288.8 L883.2,290.6 L883.6,292.1 L883.9,292.7 L884.2,288.7 L884.5,288.1 L884.9,286.4 L885.2,290.5 L885.6,288.8 L885.9,292.9 L886.2,295.1 L886.6,294.6 L886.9,296.5 L887.3,297.2 L887.6,297.1 L887.9,299.3 L888.3,297.0 L888.6,298.9 L888.9,298.4 L889.2,300.5 L889.6,300.1 L889.9,300.0 L890.2,303.4 L890.6,302.1 L890.9,303.8 L891.3,302.2 L891.6,300.6 L892.0,301.3 L892.3,299.3 L892.7,298.0 L893.0,301.2 L893.4,300.5 L893.7,290.0 L894.0,276.7 L894.3,268.6 L894.7,268.5 L895.0,266.9 L895.4,260.4 L895.7,258.7 L896.1,256.6 L896.4,255.6 L896.8,251.8 L897.1,252.7 L897.5,252.3 L897.8,250.2 L898.1,252.9 L898.5,250.6 L898.8,251.9 L899.2,252.5 L899.5,250.5 L899.9,251.0 L900.3,250.6 L900.7,249.2 L901.0,251.0 L901.4,250.2 L901.8,254.1 L902.2,251.2 L902.6,251.5 L902.9,251.3 L903.3,254.3 L903.6,259.7 L904.0,260.0 L904.3,263.6 L904.7,261.0 L905.0,260.7 L905.4,257.1 L905.7,253.7 L906.1,255.2 L906.4,253.4 L906.8,251.8 L907.2,252.6 L907.5,252.7 L907.9,253.1 L908.3,256.0 L908.7,258.1 L909.0,258.1 L909.4,258.5 L909.8,259.1 L910.1,254.9 L910.5,256.3 L910.8,257.9 L911.2,256.8 L911.5,255.7 L911.9,255.2 L912.2,256.7 L912.6,258.0 L912.9,257.1 L913.3,263.7 L913.6,263.6 L913.9,262.9 L914.3,263.0 L914.6,265.0 L915.0,264.8 L915.3,268.6 L915.7,266.1 L916.0,266.9 L916.3,266.5 L916.7,267.1 L917.0,269.1 L917.4,268.0 L917.7,267.8 L918.0,267.5 L918.4,268.9 L918.7,268.5 L919.1,266.6 L919.4,268.6 L919.8,269.6 L920.1,272.7 L920.5,272.8 L920.8,274.3 L921.2,275.4 L921.5,277.3 L921.9,278.7 L922.3,281.2 L922.6,282.6 L923.0,284.4 L923.4,283.9 L923.8,289.0 L924.1,289.0 L924.5,290.4 L924.9,290.9 L925.2,292.5 L925.5,292.0 L925.9,293.5 L926.2,291.2 L926.6,294.6 L927.0,297.0 L927.3,298.7 L927.7,297.2 L928.0,299.2 L928.4,297.5 L928.7,298.8 L929.1,297.8 L929.4,298.3 L929.8,298.1 L930.1,300.6 L930.5,300.7 L930.8,300.4 L931.2,302.1 L931.6,303.2 L931.9,307.2 L932.3,307.1 L932.6,307.1 L933.0,307.0 L933.3,306.6 L933.7,310.5 L934.1,304.0 L934.5,292.1 L934.8,291.4 L935.2,295.8 L935.5,294.2 L935.9,297.7 L936.2,295.5 L936.5,297.3 L936.9,296.8 L937.2,296.5 L937.6,298.5 L937.9,298.8 L938.2,296.4 L938.6,295.6 L938.9,291.6 L939.3,291.7 L939.6,290.4 L940.0,290.7 L940.3,290.4 L940.7,292.6 L941.0,294.3 L941.4,293.4 L941.7,295.5 L942.1,297.1 L942.4,296.0 L942.8,295.1 L943.1,294.4 L943.4,298.7 L943.8,298.0 L944.1,298.3 L944.4,299.7 L944.7,302.9 L945.1,298.8 L945.4,298.8 L945.7,299.5 L946.1,303.5 L946.4,305.3 L946.8,303.1 L947.1,305.5 L947.4,302.9 L947.8,301.9 L948.1,293.4 L948.5,294.6 L948.8,292.1 L949.2,287.3 L949.5,287.5 L949.9,285.0 L950.2,279.4 L950.6,276.6 L950.9,272.9 L951.3,271.9 L951.7,272.5 L952.0,273.2 L952.4,271.8 L952.7,271.2 L953.1,271.0 L953.4,272.8 L953.8,270.3 L954.1,271.2 L954.5,270.6 L954.8,272.2 L955.2,270.7 L955.5,267.8 L955.8,269.2 L956.2,265.3 L956.5,262.8 L956.9,265.9 L957.2,265.2 L957.6,266.9 L957.9,261.5 L958.2,266.1 L958.6,263.1 L958.9,261.7 L959.3,261.9 L959.6,260.5 L960.0,258.6 L960.3,257.6 L960.7,258.8 L961.0,259.0 L961.4,258.5 L961.8,259.0 L962.1,258.4 L962.5,258.1 L962.8,260.6 L963.2,257.2 L963.5,259.6 L963.9,260.2 L964.2,261.1 L964.6,259.7 L964.9,258.8 L965.2,259.7 L965.5,258.1 L965.9,259.4 L966.2,259.9 L966.5,255.6 L966.9,257.2 L967.2,256.0 L967.5,257.2 L967.9,257.9 L968.2,260.4 L968.6,259.6 L968.9,259.8 L969.2,259.6 L969.6,260.5 L969.9,260.2 L970.3,260.5 L970.6,263.6 L970.9,262.6 L971.3,264.7 L971.6,266.5 L972.0,263.3 L972.3,263.6 L972.6,265.9 L973.0,263.5 L973.3,265.5 L973.7,264.7 L974.0,263.6 L974.3,263.3 L974.6,264.2 L975.0,265.5 L975.3,266.3 L975.6,268.6 L975.9,267.7 L976.3,263.9 L976.6,263.7 L977.0,264.6 L977.3,261.9 L977.7,259.5 L978.0,257.5 L978.4,252.8 L978.7,251.9 L979.1,249.0 L979.4,246.7 L979.8,243.4 L980.1,246.9 L980.5,247.5 L980.8,242.0 L981.2,248.8 L981.5,250.1 L981.9,250.1 L981.9,471.7 Z" fill="#cfe3f1"/><path d="M104.9,450.7 L107.0,450.8 L110.0,450.5 L113.4,450.6 L114.0,447.6 L114.6,450.4 L117.0,450.7 L120.0,450.4 L123.2,450.4 L123.6,450.8 L123.9,451.4 L124.3,450.5 L124.7,451.1 L125.0,449.8 L125.4,450.3 L125.7,450.6 L126.1,450.9 L126.5,451.0 L126.8,451.3 L127.2,450.1 L127.5,450.6 L127.9,449.5 L128.3,450.8 L128.6,450.2 L129.0,451.3 L129.4,451.2 L129.7,451.2 L130.1,451.0 L130.4,450.9 L130.8,451.9 L131.2,451.5 L131.5,452.7 L131.9,452.5 L132.3,451.5 L132.6,453.3 L133.0,452.2 L133.4,452.6 L133.7,452.7 L134.1,453.6 L134.4,452.9 L134.8,453.6 L135.2,454.4 L135.5,453.9 L135.9,453.9 L136.2,453.7 L136.6,454.0 L137.0,454.2 L137.3,453.9 L137.7,454.5 L138.1,455.3 L138.4,454.5 L138.8,454.3 L139.1,456.1 L139.5,455.2 L139.9,454.4 L140.2,456.2 L140.6,455.3 L141.0,455.4 L141.3,454.8 L141.7,456.2 L142.1,456.0 L142.4,456.6 L142.8,456.8 L143.1,456.0 L143.5,456.2 L143.9,455.9 L144.2,456.2 L144.6,455.8 L144.9,456.3 L145.3,455.8 L145.7,457.1 L146.0,457.0 L146.4,457.1 L146.7,456.7 L147.1,457.6 L147.4,457.0 L147.7,458.0 L148.0,457.5 L148.4,457.5 L148.7,457.7 L149.0,457.5 L149.4,457.4 L149.7,457.5 L150.0,458.4 L150.3,458.4 L150.7,457.7 L151.0,458.2 L151.3,458.1 L151.7,458.3 L152.0,458.8 L152.3,457.4 L152.6,458.9 L153.0,459.0 L153.3,458.8 L153.6,458.6 L154.0,459.1 L154.3,458.1 L154.6,458.9 L155.0,458.9 L155.3,458.5 L155.6,458.6 L156.0,458.8 L156.3,457.7 L156.6,458.5 L157.0,458.0 L157.3,458.2 L157.6,458.8 L158.0,458.4 L158.3,459.2 L158.6,457.8 L159.0,458.9 L159.3,457.7 L159.6,459.1 L160.0,458.2 L160.3,458.2 L160.6,458.3 L161.0,459.6 L161.3,457.3 L161.6,458.5 L162.0,458.0 L162.3,458.6 L162.6,458.4 L163.0,457.6 L163.3,457.3 L163.6,458.7 L164.0,458.6 L164.3,458.5 L164.6,459.0 L164.9,458.5 L165.3,459.2 L165.6,458.3 L165.9,459.1 L166.3,458.9 L166.6,458.4 L166.9,458.9 L167.3,458.6 L167.6,458.5 L167.9,458.2 L168.3,459.0 L168.6,458.8 L168.9,458.1 L169.3,459.1 L169.6,458.8 L170.0,459.0 L170.3,458.1 L170.7,458.6 L171.1,457.3 L171.4,457.8 L171.8,458.5 L172.1,457.9 L172.5,457.6 L172.9,457.8 L173.2,456.6 L173.6,456.0 L173.9,457.2 L174.3,456.0 L174.7,456.6 L175.0,456.0 L175.4,456.5 L175.8,456.4 L176.1,457.8 L176.5,456.9 L176.9,457.7 L177.2,457.6 L177.6,456.1 L177.9,455.9 L178.3,456.6 L178.7,455.8 L179.0,457.3 L179.4,457.1 L179.8,455.7 L180.1,456.4 L180.5,456.8 L180.8,457.1 L181.2,456.8 L181.5,457.2 L181.9,457.2 L182.2,457.5 L182.5,456.5 L182.8,456.5 L183.2,456.2 L183.5,456.4 L183.8,456.9 L184.2,456.7 L184.5,456.8 L184.8,455.5 L185.1,454.9 L185.5,456.1 L185.8,455.9 L186.1,455.3 L186.5,456.2 L186.8,453.6 L187.1,455.3 L187.4,453.7 L187.8,453.6 L188.1,453.3 L188.4,453.9 L188.8,454.2 L189.1,451.1 L189.4,451.9 L189.7,450.1 L190.1,451.4 L190.4,450.7 L190.7,450.5 L191.1,450.9 L191.4,450.8 L191.7,452.0 L192.1,450.1 L192.4,449.7 L192.7,450.9 L193.1,450.9 L193.4,452.2 L193.7,450.4 L194.1,451.6 L194.4,450.8 L194.7,450.7 L195.1,451.1 L195.4,450.7 L195.7,451.7 L196.1,451.6 L196.4,452.5 L196.7,452.0 L197.1,451.0 L197.4,451.3 L197.8,451.0 L198.1,450.0 L198.5,450.3 L198.8,449.1 L199.2,449.0 L199.5,448.5 L199.8,449.4 L200.2,448.7 L200.6,447.0 L200.9,446.7 L201.2,445.5 L201.6,445.0 L201.9,443.6 L202.3,442.8 L202.6,442.9 L202.9,441.6 L203.3,443.0 L203.6,439.8 L204.0,439.3 L204.3,439.1 L204.7,438.6 L205.0,439.1 L205.4,440.3 L205.8,439.8 L206.1,439.8 L206.5,439.7 L206.8,440.5 L207.2,440.5 L207.6,441.1 L207.9,441.1 L208.3,441.2 L208.6,441.6 L209.0,439.8 L209.4,441.6 L209.7,441.8 L210.1,441.9 L210.5,442.1 L210.8,441.1 L211.2,442.3 L211.6,442.7 L212.0,443.1 L212.3,442.8 L212.7,442.6 L213.1,441.4 L213.5,441.4 L213.8,442.9 L214.2,443.0 L214.6,443.6 L214.9,442.9 L215.3,442.0 L215.7,441.4 L216.0,441.8 L216.3,441.9 L216.7,439.8 L217.0,440.3 L217.4,441.4 L217.8,440.4 L218.1,440.1 L218.4,439.8 L218.8,442.0 L219.1,440.6 L219.4,440.6 L219.8,442.0 L220.1,440.9 L220.4,441.5 L220.8,441.9 L221.1,441.0 L221.4,442.4 L221.8,442.5 L222.1,443.1 L222.4,442.7 L222.8,442.8 L223.1,443.2 L223.4,442.7 L223.8,444.5 L224.1,445.5 L224.4,443.6 L224.8,443.5 L225.1,444.2 L225.4,443.6 L225.8,444.1 L226.1,443.9 L226.4,444.1 L226.7,443.1 L227.1,443.6 L227.4,443.3 L227.7,443.2 L228.1,442.8 L228.4,442.2 L228.7,443.5 L229.0,445.0 L229.4,443.0 L229.7,442.4 L230.1,442.1 L230.4,443.1 L230.8,442.0 L231.1,443.9 L231.5,443.0 L231.9,443.4 L232.2,444.1 L232.6,443.9 L233.0,444.2 L233.3,444.4 L233.7,444.7 L234.1,446.1 L234.4,445.3 L234.8,445.2 L235.1,444.8 L235.5,445.3 L235.8,445.8 L236.2,445.5 L236.5,445.4 L236.8,447.3 L237.2,446.4 L237.5,446.3 L237.8,445.9 L238.2,446.4 L238.5,445.8 L238.8,445.8 L239.2,446.7 L239.5,446.6 L239.8,445.7 L240.2,446.5 L240.5,446.6 L240.8,446.7 L241.2,445.5 L241.5,447.2 L241.8,446.9 L242.2,446.8 L242.5,447.1 L242.9,447.6 L243.2,448.1 L243.6,447.6 L243.9,447.4 L244.3,447.0 L244.7,446.7 L245.0,447.1 L245.4,447.1 L245.8,448.6 L246.1,447.4 L246.5,448.2 L246.9,445.8 L247.2,447.9 L247.6,446.3 L247.9,446.6 L248.3,447.1 L248.7,448.2 L249.0,447.8 L249.4,447.7 L249.8,447.6 L250.1,448.9 L250.5,446.6 L250.8,447.3 L251.2,448.0 L251.6,447.8 L251.9,447.2 L252.3,447.8 L252.6,448.3 L253.0,448.1 L253.4,448.1 L253.7,449.3 L254.1,448.8 L254.4,449.0 L254.8,448.8 L255.1,449.3 L255.4,449.1 L255.8,449.4 L256.1,449.8 L256.5,448.5 L256.8,449.0 L257.1,449.2 L257.5,449.3 L257.8,448.2 L258.1,450.8 L258.5,448.8 L258.8,448.4 L259.2,450.4 L259.5,449.2 L259.8,449.8 L260.2,448.7 L260.5,450.4 L260.9,449.2 L261.2,448.4 L261.5,449.5 L261.9,449.6 L262.2,449.4 L262.5,449.2 L262.9,449.8 L263.2,449.3 L263.5,450.7 L263.8,448.9 L264.2,449.4 L264.5,449.8 L264.8,449.7 L265.2,449.8 L265.5,450.6 L265.8,450.8 L266.1,449.9 L266.5,450.1 L266.8,450.2 L267.1,450.3 L267.5,450.5 L267.8,449.7 L268.1,450.6 L268.4,451.4 L268.8,450.8 L269.1,450.6 L269.4,449.7 L269.8,449.2 L270.1,450.8 L270.4,448.6 L270.8,448.9 L271.1,448.8 L271.5,448.2 L271.8,447.3 L272.1,446.2 L272.5,447.8 L272.8,446.2 L273.1,445.5 L273.5,445.0 L273.8,445.9 L274.2,445.6 L274.5,445.0 L274.9,445.9 L275.2,445.4 L275.6,444.0 L276.0,445.3 L276.3,444.4 L276.7,443.9 L277.1,443.3 L277.4,442.9 L277.8,443.1 L278.2,442.5 L278.5,441.0 L278.9,443.4 L279.2,442.7 L279.6,441.9 L279.9,440.7 L280.3,442.6 L280.6,441.4 L280.9,442.0 L281.2,443.0 L281.6,440.3 L281.9,440.7 L282.2,440.4 L282.6,440.6 L282.9,438.4 L283.2,439.5 L283.5,440.1 L283.9,438.9 L284.2,439.5 L284.6,439.6 L284.9,440.0 L285.3,442.3 L285.6,441.8 L286.0,442.4 L286.4,442.2 L286.7,442.8 L287.1,441.2 L287.5,441.2 L287.8,442.3 L288.2,441.3 L288.6,441.5 L288.9,442.4 L289.3,440.4 L289.6,443.6 L290.0,443.0 L290.3,445.1 L290.7,442.3 L291.0,444.3 L291.3,443.7 L291.6,442.5 L292.0,445.4 L292.3,444.4 L292.6,443.7 L293.0,444.9 L293.3,443.8 L293.6,445.5 L293.9,445.5 L294.3,445.3 L294.6,445.9 L295.0,445.5 L295.3,445.2 L295.7,444.3 L296.0,443.9 L296.4,443.6 L296.7,443.8 L297.1,439.9 L297.4,441.7 L297.8,440.7 L298.1,441.3 L298.5,441.7 L298.8,440.5 L299.2,442.0 L299.6,443.2 L299.9,440.8 L300.3,442.3 L300.6,440.3 L301.0,441.3 L301.4,442.7 L301.7,440.7 L302.1,441.9 L302.4,439.7 L302.8,440.9 L303.2,442.3 L303.5,441.1 L303.9,441.3 L304.2,439.9 L304.6,443.2 L304.9,441.5 L305.2,442.7 L305.6,440.9 L305.9,442.2 L306.2,443.1 L306.6,442.3 L306.9,442.1 L307.3,443.3 L307.6,443.6 L307.9,444.3 L308.3,445.2 L308.6,444.8 L308.9,443.2 L309.3,443.3 L309.6,444.0 L309.9,441.1 L310.2,442.9 L310.6,441.3 L310.9,440.8 L311.2,440.6 L311.6,438.5 L311.9,439.4 L312.2,438.7 L312.5,437.6 L312.9,437.3 L313.2,436.7 L313.6,436.7 L313.9,437.7 L314.3,435.9 L314.6,437.1 L315.0,436.4 L315.4,435.7 L315.7,433.3 L316.1,434.9 L316.5,434.1 L316.8,434.8 L317.2,435.1 L317.6,435.3 L317.9,434.8 L318.3,435.7 L318.6,433.5 L319.0,433.2 L319.3,432.6 L319.7,434.1 L320.0,432.3 L320.3,431.7 L320.7,431.8 L321.0,431.8 L321.3,429.6 L321.7,432.5 L322.0,429.8 L322.3,431.3 L322.7,431.0 L323.0,430.3 L323.4,430.0 L323.7,430.9 L324.1,431.8 L324.4,433.0 L324.8,432.3 L325.2,431.3 L325.5,433.9 L325.9,433.2 L326.3,434.5 L326.6,433.1 L327.0,433.8 L327.3,433.7 L327.7,434.5 L328.0,433.9 L328.4,435.1 L328.7,433.2 L329.1,435.2 L329.5,433.3 L329.8,434.0 L330.2,434.6 L330.5,436.4 L330.9,434.7 L331.2,434.6 L331.6,436.3 L331.9,433.1 L332.3,435.3 L332.6,435.6 L333.0,436.2 L333.3,434.7 L333.7,433.7 L334.0,435.3 L334.4,434.7 L334.7,436.0 L335.0,435.6 L335.4,434.9 L335.7,437.0 L336.1,435.3 L336.4,435.6 L336.7,434.9 L337.1,436.9 L337.4,435.6 L337.8,436.0 L338.1,436.6 L338.4,435.3 L338.8,437.3 L339.1,436.4 L339.5,436.9 L339.8,436.7 L340.2,436.9 L340.5,436.3 L340.8,435.6 L341.2,432.1 L341.5,433.0 L341.9,433.6 L342.2,431.2 L342.6,431.2 L342.9,430.0 L343.2,428.7 L343.6,428.9 L343.9,428.5 L344.3,426.9 L344.6,426.1 L344.9,424.2 L345.3,427.4 L345.6,427.1 L346.0,426.3 L346.3,426.1 L346.6,426.8 L347.0,427.3 L347.3,425.0 L347.6,428.2 L348.0,426.8 L348.3,426.1 L348.7,427.4 L349.0,427.7 L349.3,428.4 L349.7,429.4 L350.0,428.4 L350.4,429.3 L350.7,428.1 L351.0,427.4 L351.4,428.7 L351.7,428.0 L352.1,430.0 L352.4,430.5 L352.8,428.8 L353.1,428.7 L353.5,430.0 L353.8,430.5 L354.1,429.8 L354.5,429.0 L354.8,429.5 L355.2,429.4 L355.5,430.0 L355.9,430.1 L356.2,429.9 L356.6,431.1 L356.9,430.2 L357.3,430.6 L357.6,429.5 L358.0,429.9 L358.4,429.6 L358.7,430.9 L359.1,431.6 L359.4,430.9 L359.8,430.6 L360.2,430.5 L360.5,431.4 L360.9,431.5 L361.3,431.3 L361.6,432.2 L362.0,431.7 L362.4,431.7 L362.7,432.3 L363.1,432.6 L363.5,431.1 L363.8,434.2 L364.2,433.4 L364.6,432.4 L364.9,433.1 L365.3,433.3 L365.6,431.8 L366.0,433.0 L366.4,434.1 L366.7,433.1 L367.1,433.2 L367.4,433.3 L367.8,432.1 L368.1,433.5 L368.5,431.5 L368.8,432.3 L369.2,430.8 L369.5,430.7 L369.9,429.8 L370.2,428.2 L370.5,429.4 L370.9,428.0 L371.2,428.5 L371.6,428.6 L371.9,428.7 L372.3,426.7 L372.6,426.4 L373.0,425.4 L373.3,426.1 L373.6,426.6 L374.0,425.5 L374.3,426.4 L374.7,423.9 L375.0,423.5 L375.3,424.7 L375.7,424.0 L376.0,424.3 L376.4,424.7 L376.7,424.4 L377.0,424.0 L377.4,423.4 L377.7,423.3 L378.0,422.8 L378.4,421.6 L378.7,422.2 L379.1,421.3 L379.4,422.0 L379.7,422.6 L380.1,420.3 L380.4,421.4 L380.8,419.9 L381.1,420.5 L381.5,419.9 L381.8,418.7 L382.2,418.8 L382.5,415.6 L382.8,419.8 L383.2,419.5 L383.5,417.9 L383.9,417.1 L384.2,417.9 L384.6,417.3 L384.9,416.7 L385.3,414.8 L385.6,415.8 L385.9,415.2 L386.2,417.1 L386.6,417.1 L386.9,415.7 L387.2,416.4 L387.6,415.6 L387.9,415.3 L388.3,415.9 L388.7,412.6 L389.1,413.5 L389.4,413.0 L389.8,411.8 L390.2,411.7 L390.6,412.0 L390.9,413.1 L391.3,413.2 L391.7,409.7 L392.0,409.6 L392.4,406.0 L392.7,404.0 L393.1,407.0 L393.4,401.9 L393.7,399.0 L394.1,400.1 L394.4,395.3 L394.8,393.5 L395.1,394.0 L395.4,393.3 L395.8,393.1 L396.1,391.4 L396.4,389.5 L396.8,387.3 L397.1,382.8 L397.4,386.1 L397.7,382.0 L398.1,382.6 L398.4,380.6 L398.7,377.9 L399.1,380.0 L399.4,375.8 L399.8,374.6 L400.1,371.6 L400.4,372.1 L400.8,375.5 L401.1,370.5 L401.5,367.8 L401.8,362.7 L402.2,360.3 L402.5,366.2 L402.9,365.9 L403.3,366.0 L403.6,367.4 L404.0,367.2 L404.3,372.0 L404.7,371.9 L405.0,371.6 L405.3,371.7 L405.6,374.0 L406.0,373.1 L406.3,376.1 L406.7,377.5 L407.0,378.8 L407.4,377.9 L407.8,381.8 L408.1,385.2 L408.5,389.5 L408.9,386.2 L409.2,385.4 L409.6,379.0 L410.0,375.4 L410.3,376.3 L410.7,373.9 L411.0,369.9 L411.4,370.5 L411.7,362.7 L412.0,362.8 L412.3,359.6 L412.7,359.8 L413.0,356.0 L413.4,352.3 L413.7,353.0 L414.1,346.6 L414.5,345.3 L414.8,344.3 L415.2,340.3 L415.5,336.5 L415.9,335.2 L416.2,331.4 L416.5,334.2 L416.8,333.9 L417.2,329.7 L417.5,329.1 L417.9,328.9 L418.2,331.2 L418.6,334.5 L419.0,330.0 L419.3,333.3 L419.7,335.8 L420.1,337.0 L420.4,332.9 L420.8,324.5 L421.2,331.2 L421.5,324.7 L421.9,322.4 L422.2,322.4 L422.6,316.5 L422.9,317.1 L423.2,316.8 L423.5,311.4 L423.9,312.6 L424.2,311.2 L424.6,311.2 L424.9,316.9 L425.3,324.9 L425.7,322.0 L426.0,325.3 L426.4,329.1 L426.7,329.2 L427.1,330.2 L427.4,327.9 L427.7,335.9 L428.0,340.9 L428.4,338.0 L428.7,338.1 L429.1,339.4 L429.5,333.9 L429.9,332.3 L430.3,328.3 L430.6,337.0 L431.0,334.0 L431.4,331.0 L431.8,335.9 L432.1,339.8 L432.5,333.8 L432.9,342.6 L433.2,337.8 L433.6,339.5 L433.9,337.6 L434.3,336.5 L434.6,332.7 L435.0,329.3 L435.3,331.7 L435.7,331.9 L436.0,327.4 L436.4,329.3 L436.7,333.3 L437.1,334.5 L437.4,323.2 L437.8,331.6 L438.2,328.2 L438.5,329.8 L438.9,331.8 L439.2,336.7 L439.6,335.9 L439.9,340.0 L440.3,333.1 L440.6,332.4 L441.0,329.0 L441.3,331.4 L441.7,332.3 L442.0,327.4 L442.4,326.8 L442.7,328.0 L443.1,328.3 L443.4,330.4 L443.8,334.6 L444.2,337.1 L444.5,337.9 L444.9,340.4 L445.2,337.1 L445.6,341.9 L446.0,344.9 L446.3,337.5 L446.7,333.8 L447.1,338.9 L447.5,337.1 L447.8,339.4 L448.2,337.5 L448.6,338.0 L448.9,333.7 L449.3,332.3 L449.7,334.5 L450.0,332.2 L450.4,337.9 L450.7,335.7 L451.1,338.4 L451.5,335.6 L451.8,340.0 L452.2,340.3 L452.5,342.4 L452.9,344.4 L453.2,345.7 L453.6,343.2 L453.9,343.3 L454.3,347.4 L454.6,342.0 L455.0,343.1 L455.3,343.1 L455.6,341.6 L456.0,343.3 L456.3,347.4 L456.7,343.7 L457.0,340.5 L457.4,341.2 L457.7,341.9 L458.1,341.3 L458.4,343.1 L458.8,344.0 L459.2,347.8 L459.5,344.4 L459.9,343.8 L460.3,346.5 L460.7,348.8 L461.0,350.3 L461.4,346.8 L461.8,343.9 L462.1,347.9 L462.5,350.4 L462.8,349.2 L463.2,354.1 L463.6,358.4 L463.9,356.1 L464.3,358.2 L464.6,355.3 L465.0,361.3 L465.3,359.8 L465.7,365.5 L466.0,366.1 L466.4,366.4 L466.7,362.5 L467.1,368.9 L467.4,368.6 L467.8,364.4 L468.1,366.5 L468.4,363.4 L468.8,368.2 L469.2,364.9 L469.5,362.0 L469.9,357.7 L470.2,354.4 L470.6,346.3 L470.9,348.8 L471.2,346.6 L471.6,351.5 L471.9,345.2 L472.3,346.8 L472.7,343.5 L473.0,347.0 L473.4,338.1 L473.7,340.0 L474.1,339.6 L474.5,333.8 L474.8,342.4 L475.2,330.5 L475.5,330.5 L475.9,332.3 L476.3,327.3 L476.7,330.7 L477.0,333.1 L477.4,325.4 L477.8,326.1 L478.2,324.9 L478.5,330.5 L478.9,325.7 L479.3,326.7 L479.7,326.0 L480.0,330.8 L480.4,331.3 L480.7,328.2 L481.1,339.1 L481.4,337.2 L481.7,332.0 L482.0,333.0 L482.4,333.9 L482.7,335.0 L483.0,332.4 L483.3,337.6 L483.7,336.1 L484.0,335.3 L484.3,336.5 L484.6,337.6 L485.0,335.8 L485.3,336.5 L485.6,344.4 L486.0,339.3 L486.3,342.6 L486.7,343.5 L487.0,344.4 L487.4,342.5 L487.7,346.1 L488.1,347.4 L488.5,340.6 L488.9,338.9 L489.2,338.5 L489.6,339.1 L489.9,343.2 L490.2,342.8 L490.6,342.9 L490.9,343.7 L491.2,350.0 L491.6,345.6 L491.9,346.0 L492.2,353.5 L492.5,346.8 L492.9,352.0 L493.2,352.7 L493.5,352.2 L493.9,346.4 L494.2,346.1 L494.6,335.4 L495.0,340.6 L495.4,332.1 L495.7,332.0 L496.1,326.1 L496.5,323.8 L496.8,322.8 L497.2,322.2 L497.6,316.5 L498.0,315.3 L498.3,315.9 L498.7,313.0 L499.1,312.1 L499.4,313.8 L499.8,310.5 L500.2,303.5 L500.6,302.9 L500.9,304.4 L501.3,297.4 L501.7,296.4 L502.0,308.0 L502.4,304.3 L502.8,299.9 L503.2,310.6 L503.5,309.8 L503.9,310.4 L504.2,310.0 L504.6,310.2 L504.9,317.4 L505.2,303.6 L505.5,316.1 L505.9,314.4 L506.2,316.1 L506.5,315.4 L506.8,318.5 L507.2,319.5 L507.5,317.0 L507.8,318.3 L508.2,317.1 L508.5,322.4 L508.9,312.6 L509.3,318.6 L509.7,312.4 L510.0,311.7 L510.4,307.8 L510.8,310.9 L511.1,312.2 L511.5,310.0 L511.9,319.8 L512.3,317.3 L512.6,320.7 L513.0,323.5 L513.3,323.7 L513.7,328.5 L514.0,326.1 L514.4,329.3 L514.7,327.9 L515.0,329.1 L515.4,329.6 L515.7,328.7 L516.1,329.0 L516.4,331.4 L516.8,331.7 L517.2,333.1 L517.6,338.2 L517.9,336.7 L518.3,339.1 L518.6,341.4 L518.9,344.7 L519.3,340.2 L519.6,342.1 L519.9,344.6 L520.2,343.1 L520.6,342.0 L520.9,340.4 L521.2,344.9 L521.6,344.8 L521.9,345.3 L522.2,347.0 L522.6,345.3 L522.9,346.9 L523.3,347.9 L523.7,347.6 L524.1,345.0 L524.4,347.4 L524.8,344.4 L525.1,348.9 L525.5,343.4 L525.8,347.1 L526.2,347.6 L526.5,350.5 L526.9,353.1 L527.2,353.6 L527.5,354.8 L527.9,352.7 L528.2,354.5 L528.6,355.9 L528.9,357.0 L529.2,357.1 L529.6,362.5 L529.9,358.1 L530.3,360.9 L530.6,360.3 L530.9,358.2 L531.3,361.9 L531.6,365.0 L531.9,364.5 L532.2,363.6 L532.6,366.8 L532.9,368.6 L533.2,369.7 L533.6,364.8 L533.9,367.0 L534.2,368.7 L534.6,366.8 L534.9,370.0 L535.3,372.7 L535.6,371.5 L535.9,371.8 L536.3,371.7 L536.6,375.1 L537.0,374.3 L537.3,376.0 L537.6,374.4 L538.0,371.6 L538.3,372.5 L538.6,367.8 L539.0,367.1 L539.3,366.3 L539.6,363.9 L539.9,362.2 L540.3,358.9 L540.6,358.1 L540.9,362.7 L541.3,360.6 L541.6,359.5 L541.9,365.1 L542.2,360.7 L542.6,364.8 L542.9,362.6 L543.2,364.1 L543.6,360.3 L543.9,367.5 L544.2,370.9 L544.5,371.5 L544.9,374.1 L545.2,373.0 L545.5,377.4 L545.9,376.6 L546.2,380.4 L546.5,380.2 L546.9,378.9 L547.2,380.2 L547.6,374.8 L547.9,373.7 L548.2,376.0 L548.6,370.3 L548.9,368.2 L549.3,364.8 L549.6,367.0 L549.9,366.8 L550.3,367.6 L550.6,369.7 L550.9,371.3 L551.2,371.5 L551.6,376.0 L551.9,376.2 L552.2,371.8 L552.6,372.7 L552.9,376.0 L553.3,373.4 L553.6,373.2 L554.0,374.4 L554.4,370.8 L554.8,367.8 L555.1,368.1 L555.5,364.9 L555.9,364.9 L556.3,369.6 L556.6,366.3 L557.0,361.1 L557.4,360.3 L557.7,360.6 L558.1,362.3 L558.4,354.8 L558.8,358.9 L559.1,364.8 L559.4,365.3 L559.8,361.8 L560.1,370.0 L560.5,367.4 L560.8,369.3 L561.2,370.0 L561.5,369.9 L561.9,369.5 L562.3,373.1 L562.6,372.3 L563.0,372.6 L563.4,371.8 L563.7,371.0 L564.1,374.5 L564.5,374.5 L564.8,376.3 L565.2,376.0 L565.6,378.0 L566.0,378.1 L566.3,376.8 L566.7,379.8 L567.1,377.8 L567.5,378.2 L567.8,377.1 L568.2,375.7 L568.6,378.4 L569.0,381.6 L569.3,378.2 L569.7,380.4 L570.1,379.1 L570.5,383.9 L570.8,380.4 L571.2,381.6 L571.6,381.6 L572.0,382.6 L572.3,382.4 L572.7,383.9 L573.1,384.4 L573.5,383.6 L573.8,382.7 L574.2,384.9 L574.5,383.6 L574.9,386.7 L575.2,383.8 L575.6,387.6 L575.9,387.5 L576.3,387.9 L576.6,386.3 L577.0,386.6 L577.3,387.7 L577.6,386.1 L578.0,386.8 L578.3,386.1 L578.7,386.0 L579.0,386.9 L579.4,388.0 L579.7,388.3 L580.1,390.9 L580.5,388.4 L580.8,391.8 L581.2,385.5 L581.6,386.3 L582.0,390.0 L582.3,391.2 L582.7,390.7 L583.1,388.9 L583.5,392.0 L583.8,390.7 L584.2,391.6 L584.5,389.4 L584.9,390.7 L585.2,393.1 L585.6,391.8 L585.9,392.1 L586.2,390.6 L586.6,392.7 L586.9,393.3 L587.3,394.1 L587.6,392.7 L587.9,390.0 L588.3,396.6 L588.6,394.2 L588.9,393.1 L589.2,393.3 L589.6,396.3 L589.9,394.0 L590.2,395.8 L590.6,392.4 L590.9,393.9 L591.2,396.6 L591.6,394.1 L591.9,394.6 L592.3,389.8 L592.6,391.6 L592.9,388.2 L593.3,390.0 L593.6,390.2 L594.0,389.9 L594.3,389.4 L594.7,388.0 L595.0,386.1 L595.4,389.2 L595.8,386.0 L596.1,390.0 L596.5,388.2 L596.9,387.4 L597.2,387.7 L597.6,386.7 L598.0,385.9 L598.3,385.4 L598.7,387.1 L599.0,387.4 L599.4,389.5 L599.7,388.5 L600.0,388.4 L600.4,386.7 L600.7,384.3 L601.0,386.8 L601.3,390.9 L601.7,387.0 L602.0,386.3 L602.3,384.2 L602.6,384.9 L603.0,384.7 L603.3,380.4 L603.6,383.4 L603.9,384.2 L604.2,385.8 L604.6,380.8 L604.9,379.7 L605.2,380.4 L605.5,379.2 L605.9,384.5 L606.2,386.5 L606.5,385.4 L606.9,387.3 L607.2,387.6 L607.6,390.1 L607.9,387.9 L608.3,389.8 L608.7,391.8 L609.1,390.2 L609.4,392.2 L609.8,392.8 L610.1,392.6 L610.4,391.3 L610.8,391.6 L611.1,391.9 L611.4,394.8 L611.7,393.7 L612.0,397.5 L612.4,396.1 L612.7,395.1 L613.0,396.7 L613.3,400.2 L613.7,398.5 L614.0,399.1 L614.3,400.1 L614.6,397.4 L615.0,399.9 L615.3,396.9 L615.6,395.6 L616.0,399.4 L616.3,398.0 L616.6,398.3 L617.0,399.0 L617.3,401.9 L617.6,401.4 L618.0,403.8 L618.3,405.8 L618.6,404.9 L618.9,408.3 L619.3,404.6 L619.6,405.6 L619.9,406.3 L620.2,405.8 L620.6,406.3 L620.9,405.7 L621.2,404.7 L621.6,407.4 L621.9,404.6 L622.2,405.8 L622.5,406.5 L622.9,407.5 L623.2,404.8 L623.5,402.8 L623.8,405.1 L624.2,406.5 L624.5,407.9 L624.8,409.0 L625.1,407.7 L625.5,406.7 L625.8,406.7 L626.1,407.2 L626.5,408.4 L626.8,406.6 L627.2,406.6 L627.6,406.8 L628.0,406.9 L628.3,406.6 L628.7,406.5 L629.1,403.9 L629.4,404.9 L629.8,405.3 L630.2,402.3 L630.6,407.6 L630.9,407.0 L631.3,405.8 L631.6,406.9 L631.9,406.8 L632.3,404.0 L632.6,405.6 L632.9,405.2 L633.2,404.9 L633.6,401.8 L633.9,406.5 L634.2,401.5 L634.6,402.3 L634.9,404.6 L635.2,403.9 L635.6,403.4 L635.9,407.5 L636.3,408.5 L636.7,410.1 L637.1,410.5 L637.4,412.5 L637.8,412.4 L638.1,410.9 L638.4,411.5 L638.8,413.5 L639.1,409.6 L639.4,414.2 L639.8,413.7 L640.1,414.5 L640.4,412.2 L640.7,414.8 L641.1,414.5 L641.4,415.9 L641.7,415.0 L642.1,414.7 L642.4,414.4 L642.8,415.3 L643.1,414.3 L643.5,413.0 L643.9,413.9 L644.2,412.4 L644.6,413.3 L645.0,413.4 L645.3,414.4 L645.7,412.6 L646.0,412.8 L646.4,412.8 L646.8,412.5 L647.1,411.5 L647.5,412.0 L647.8,413.4 L648.2,411.7 L648.5,411.7 L648.9,409.4 L649.2,409.4 L649.5,413.2 L649.9,412.4 L650.2,413.0 L650.5,414.1 L650.9,411.4 L651.2,414.9 L651.5,412.0 L651.9,415.3 L652.2,414.3 L652.5,415.9 L652.9,415.3 L653.2,417.6 L653.5,414.4 L653.8,415.7 L654.2,415.3 L654.5,416.6 L654.8,417.8 L655.1,413.7 L655.5,416.2 L655.8,415.7 L656.1,416.3 L656.5,414.7 L656.8,415.8 L657.2,414.3 L657.6,413.6 L658.0,411.6 L658.3,412.4 L658.7,411.1 L659.1,409.0 L659.4,404.2 L659.8,405.0 L660.2,404.6 L660.6,402.3 L660.9,398.0 L661.3,396.7 L661.6,395.4 L661.9,395.6 L662.3,394.1 L662.6,394.6 L662.9,393.4 L663.2,394.1 L663.6,390.6 L663.9,390.5 L664.2,394.0 L664.6,392.0 L664.9,391.0 L665.2,391.5 L665.6,389.7 L665.9,390.9 L666.3,391.6 L666.7,394.2 L667.1,391.9 L667.4,392.9 L667.8,392.8 L668.1,391.9 L668.5,392.5 L668.8,392.4 L669.1,390.0 L669.5,389.9 L669.8,389.2 L670.1,389.6 L670.4,389.0 L670.8,388.0 L671.1,386.9 L671.4,386.5 L671.7,388.3 L672.1,390.0 L672.4,387.8 L672.7,389.2 L673.0,389.4 L673.3,392.9 L673.7,392.4 L674.0,390.2 L674.3,391.5 L674.6,393.8 L674.9,393.0 L675.3,394.0 L675.6,395.1 L675.9,394.3 L676.2,396.1 L676.6,396.6 L676.9,396.4 L677.2,398.2 L677.6,399.3 L677.9,400.5 L678.2,400.6 L678.6,399.5 L678.9,396.6 L679.3,393.8 L679.7,396.1 L680.1,393.0 L680.4,392.0 L680.8,390.2 L681.2,389.3 L681.5,389.7 L681.9,389.8 L682.3,383.6 L682.7,383.7 L683.0,381.6 L683.4,379.8 L683.7,379.7 L684.1,376.6 L684.4,379.3 L684.7,376.3 L685.1,377.9 L685.4,379.1 L685.7,381.5 L686.1,379.2 L686.4,380.2 L686.7,376.9 L687.1,380.1 L687.4,378.5 L687.7,375.9 L688.0,378.3 L688.4,379.7 L688.7,377.8 L689.0,374.4 L689.3,375.9 L689.7,374.4 L690.0,373.1 L690.3,376.9 L690.6,372.8 L691.0,374.3 L691.3,373.3 L691.7,376.5 L692.0,375.8 L692.4,376.2 L692.8,377.9 L693.2,378.9 L693.5,378.6 L693.9,381.1 L694.2,381.9 L694.5,382.3 L694.9,385.0 L695.2,385.3 L695.5,383.4 L695.8,383.1 L696.2,385.1 L696.5,383.0 L696.8,388.1 L697.1,383.0 L697.5,385.7 L697.8,385.0 L698.1,386.7 L698.5,388.4 L698.8,387.7 L699.1,386.1 L699.4,387.5 L699.8,386.6 L700.1,384.6 L700.5,385.7 L700.8,386.4 L701.2,387.1 L701.5,387.9 L701.8,387.8 L702.2,387.2 L702.5,387.3 L702.9,389.4 L703.2,388.1 L703.5,389.5 L703.9,388.0 L704.2,387.4 L704.6,388.7 L704.9,389.6 L705.2,387.1 L705.6,387.9 L705.9,388.2 L706.3,387.7 L706.6,385.5 L707.0,385.9 L707.3,386.1 L707.7,384.4 L708.0,390.9 L708.4,385.7 L708.8,386.8 L709.1,388.8 L709.5,390.0 L709.8,389.1 L710.2,390.2 L710.6,388.3 L710.9,391.4 L711.3,388.0 L711.7,391.3 L712.0,393.4 L712.4,392.2 L712.8,390.7 L713.2,389.3 L713.6,385.6 L714.0,384.0 L714.3,385.3 L714.7,381.3 L715.1,377.2 L715.5,375.8 L715.9,375.2 L716.2,377.2 L716.6,376.8 L717.0,378.6 L717.3,374.9 L717.7,377.8 L718.0,376.9 L718.4,376.7 L718.8,377.8 L719.1,377.6 L719.5,376.6 L719.9,378.3 L720.2,378.1 L720.6,377.9 L721.0,377.8 L721.3,376.6 L721.7,377.6 L722.1,379.5 L722.4,380.2 L722.8,378.2 L723.2,378.4 L723.5,377.5 L723.9,379.7 L724.2,381.7 L724.6,381.0 L725.0,378.0 L725.3,377.6 L725.7,378.9 L726.1,378.1 L726.4,382.1 L726.8,378.9 L727.2,380.8 L727.6,382.1 L727.9,380.3 L728.3,379.9 L728.7,380.2 L729.0,383.7 L729.4,377.7 L729.8,377.8 L730.2,381.3 L730.5,380.0 L730.9,380.9 L731.2,379.9 L731.6,378.6 L731.9,381.7 L732.2,378.1 L732.6,384.0 L732.9,377.3 L733.2,381.5 L733.6,379.6 L733.9,380.9 L734.2,382.5 L734.6,385.5 L735.0,385.4 L735.3,385.9 L735.6,388.8 L736.0,390.2 L736.3,390.1 L736.7,390.8 L737.0,390.4 L737.4,391.1 L737.7,393.2 L738.0,391.2 L738.4,392.2 L738.7,392.5 L739.1,393.4 L739.4,392.2 L739.8,392.8 L740.1,392.2 L740.4,392.8 L740.8,394.6 L741.1,394.0 L741.5,393.7 L741.8,393.8 L742.2,394.2 L742.5,395.5 L742.8,393.6 L743.2,394.9 L743.5,395.9 L743.9,397.4 L744.2,396.3 L744.5,394.7 L744.9,394.4 L745.2,397.1 L745.6,396.4 L745.9,396.2 L746.2,395.3 L746.6,395.3 L746.9,398.1 L747.3,397.1 L747.6,390.7 L748.0,394.9 L748.3,394.3 L748.7,396.4 L749.0,393.0 L749.4,393.9 L749.8,394.8 L750.1,395.5 L750.5,393.8 L750.8,394.8 L751.2,395.5 L751.6,394.3 L751.9,394.1 L752.3,394.0 L752.7,395.4 L753.0,395.6 L753.4,395.3 L753.8,393.5 L754.2,398.5 L754.6,392.2 L755.0,393.8 L755.3,392.8 L755.7,391.5 L756.1,390.0 L756.5,392.2 L756.8,389.0 L757.2,390.5 L757.5,386.1 L757.8,383.5 L758.2,381.3 L758.5,380.2 L758.8,379.8 L759.2,377.6 L759.5,375.8 L759.8,375.8 L760.2,373.0 L760.5,380.1 L760.9,376.4 L761.2,377.1 L761.5,374.8 L761.9,372.3 L762.2,377.2 L762.6,374.5 L762.9,371.2 L763.3,374.8 L763.6,373.8 L764.0,371.8 L764.4,371.0 L764.8,370.3 L765.2,371.8 L765.5,370.8 L765.9,370.6 L766.3,368.8 L766.7,369.7 L767.0,370.2 L767.4,369.8 L767.7,375.4 L768.1,372.1 L768.4,368.7 L768.8,369.7 L769.1,369.4 L769.4,369.5 L769.8,370.3 L770.1,369.8 L770.5,369.7 L770.8,369.7 L771.2,367.0 L771.6,367.9 L772.0,365.7 L772.3,361.5 L772.7,359.2 L773.1,358.5 L773.5,353.9 L773.9,353.3 L774.3,354.0 L774.7,352.2 L775.1,355.1 L775.5,356.4 L775.8,359.5 L776.2,358.0 L776.6,356.8 L777.0,359.4 L777.3,360.4 L777.7,356.0 L778.0,357.0 L778.4,358.4 L778.7,356.1 L779.0,358.4 L779.4,359.1 L779.7,356.9 L780.1,360.3 L780.4,359.9 L780.8,356.9 L781.1,357.4 L781.4,358.3 L781.8,353.9 L782.1,354.3 L782.4,355.4 L782.8,355.0 L783.1,352.9 L783.4,358.6 L783.8,353.6 L784.1,354.0 L784.5,354.6 L784.9,360.3 L785.3,358.5 L785.7,360.1 L786.0,362.3 L786.4,362.7 L786.8,364.1 L787.2,366.3 L787.5,367.3 L787.9,367.4 L788.2,370.1 L788.6,367.0 L788.9,369.9 L789.2,369.4 L789.6,369.3 L789.9,375.0 L790.3,372.9 L790.6,369.3 L791.0,371.9 L791.3,372.5 L791.6,373.1 L792.0,372.1 L792.3,370.9 L792.7,370.3 L793.0,371.7 L793.3,371.5 L793.7,369.4 L794.0,370.7 L794.4,369.1 L794.7,369.9 L795.1,369.0 L795.4,370.5 L795.7,370.0 L796.1,364.7 L796.4,365.0 L796.7,360.6 L797.1,358.8 L797.4,364.6 L797.7,357.8 L798.1,354.9 L798.4,354.0 L798.8,355.9 L799.2,355.7 L799.6,355.2 L800.0,354.0 L800.3,351.7 L800.7,354.8 L801.1,353.6 L801.5,354.0 L801.9,349.8 L802.2,346.1 L802.5,345.8 L802.9,337.4 L803.2,334.6 L803.6,329.4 L803.9,325.8 L804.3,319.3 L804.6,317.8 L804.9,321.7 L805.3,310.2 L805.6,308.9 L806.0,308.2 L806.3,309.1 L806.7,304.6 L807.0,301.8 L807.4,303.8 L807.7,301.8 L808.0,301.3 L808.4,298.0 L808.7,301.6 L809.0,304.0 L809.4,304.8 L809.7,304.0 L810.0,308.6 L810.4,307.8 L810.7,307.9 L811.1,307.0 L811.5,308.3 L811.9,306.4 L812.2,305.9 L812.6,305.4 L813.0,309.8 L813.4,302.7 L813.8,303.8 L814.1,308.1 L814.5,305.0 L814.8,306.3 L815.2,301.0 L815.5,308.1 L815.8,307.4 L816.2,308.4 L816.5,309.9 L816.9,310.2 L817.2,312.3 L817.6,307.2 L817.9,311.0 L818.2,302.1 L818.6,303.6 L818.9,298.7 L819.3,304.3 L819.7,301.4 L820.1,301.8 L820.5,302.8 L820.8,302.1 L821.2,303.6 L821.6,307.5 L822.0,306.9 L822.4,305.0 L822.8,303.8 L823.2,303.8 L823.5,304.9 L823.9,303.1 L824.3,305.6 L824.7,303.9 L825.1,302.8 L825.5,303.9 L825.9,299.4 L826.3,306.0 L826.7,304.9 L827.0,309.3 L827.4,304.2 L827.8,309.2 L828.2,306.9 L828.5,304.0 L828.9,299.0 L829.2,296.6 L829.5,297.0 L829.9,299.9 L830.2,302.8 L830.5,297.1 L830.9,294.6 L831.2,294.6 L831.6,294.6 L832.0,297.5 L832.4,300.2 L832.8,299.7 L833.1,303.8 L833.5,307.2 L833.9,306.0 L834.3,304.8 L834.6,303.3 L835.0,304.1 L835.3,307.0 L835.7,302.3 L836.0,304.8 L836.3,301.8 L836.7,300.0 L837.0,299.0 L837.4,299.3 L837.7,298.1 L838.1,299.0 L838.4,298.7 L838.8,300.1 L839.2,294.4 L839.6,300.0 L840.0,299.2 L840.3,301.6 L840.7,298.5 L841.1,299.1 L841.5,299.7 L841.8,300.4 L842.2,300.8 L842.5,299.6 L842.9,295.6 L843.2,302.5 L843.5,300.2 L843.9,300.9 L844.2,297.4 L844.6,298.5 L844.9,304.6 L845.3,299.9 L845.6,300.7 L845.9,300.4 L846.3,307.2 L846.6,305.3 L846.9,302.1 L847.3,311.9 L847.6,305.9 L847.9,309.1 L848.3,310.2 L848.6,311.0 L849.0,314.3 L849.3,312.8 L849.7,311.8 L850.0,311.6 L850.4,311.5 L850.7,313.0 L851.0,310.8 L851.4,307.2 L851.7,309.6 L852.0,295.1 L852.4,295.3 L852.7,290.5 L853.1,292.7 L853.5,284.7 L853.9,288.2 L854.2,286.4 L854.6,281.1 L855.0,289.0 L855.4,282.7 L855.8,282.3 L856.2,281.8 L856.6,287.4 L857.0,284.1 L857.3,283.3 L857.7,282.8 L858.1,287.9 L858.5,282.9 L858.9,284.3 L859.3,286.4 L859.7,287.8 L860.1,287.1 L860.5,288.4 L860.8,287.3 L861.2,292.2 L861.6,293.4 L862.0,292.5 L862.3,291.7 L862.7,292.5 L863.0,294.5 L863.3,294.6 L863.7,293.1 L864.0,290.8 L864.3,291.9 L864.7,289.6 L865.0,290.5 L865.4,289.0 L865.8,293.5 L866.2,290.3 L866.5,295.6 L866.9,294.9 L867.3,292.8 L867.7,300.4 L868.1,300.7 L868.5,300.2 L868.9,295.5 L869.3,302.5 L869.7,301.8 L870.0,301.9 L870.4,300.8 L870.8,301.4 L871.2,302.8 L871.6,294.3 L872.0,301.7 L872.4,299.9 L872.8,298.7 L873.1,298.3 L873.5,296.3 L873.9,299.7 L874.3,294.6 L874.6,294.0 L875.0,293.0 L875.3,295.5 L875.6,294.4 L876.0,296.3 L876.3,295.9 L876.6,292.7 L877.0,291.8 L877.3,294.6 L877.6,294.6 L878.0,297.6 L878.3,296.5 L878.6,297.9 L879.0,293.0 L879.3,300.2 L879.6,294.7 L880.0,294.3 L880.3,298.8 L880.6,297.8 L880.9,294.2 L881.3,295.5 L881.6,295.6 L881.9,295.8 L882.2,293.8 L882.6,294.4 L882.9,288.8 L883.2,290.6 L883.6,292.1 L883.9,292.7 L884.2,288.7 L884.5,288.1 L884.9,286.4 L885.2,290.5 L885.6,288.8 L885.9,292.9 L886.2,295.1 L886.6,294.6 L886.9,296.5 L887.3,297.2 L887.6,297.1 L887.9,299.3 L888.3,297.0 L888.6,298.9 L888.9,298.4 L889.2,300.5 L889.6,300.1 L889.9,300.0 L890.2,303.4 L890.6,302.1 L890.9,303.8 L891.3,302.2 L891.6,300.6 L892.0,301.3 L892.3,299.3 L892.7,298.0 L893.0,301.2 L893.4,300.5 L893.7,290.0 L894.0,276.7 L894.3,268.6 L894.7,268.5 L895.0,266.9 L895.4,260.4 L895.7,258.7 L896.1,256.6 L896.4,255.6 L896.8,251.8 L897.1,252.7 L897.5,252.3 L897.8,250.2 L898.1,252.9 L898.5,250.6 L898.8,251.9 L899.2,252.5 L899.5,250.5 L899.9,251.0 L900.3,250.6 L900.7,249.2 L901.0,251.0 L901.4,250.2 L901.8,254.1 L902.2,251.2 L902.6,251.5 L902.9,251.3 L903.3,254.3 L903.6,259.7 L904.0,260.0 L904.3,263.6 L904.7,261.0 L905.0,260.7 L905.4,257.1 L905.7,253.7 L906.1,255.2 L906.4,253.4 L906.8,251.8 L907.2,252.6 L907.5,252.7 L907.9,253.1 L908.3,256.0 L908.7,258.1 L909.0,258.1 L909.4,258.5 L909.8,259.1 L910.1,254.9 L910.5,256.3 L910.8,257.9 L911.2,256.8 L911.5,255.7 L911.9,255.2 L912.2,256.7 L912.6,258.0 L912.9,257.1 L913.3,263.7 L913.6,263.6 L913.9,262.9 L914.3,263.0 L914.6,265.0 L915.0,264.8 L915.3,268.6 L915.7,266.1 L916.0,266.9 L916.3,266.5 L916.7,267.1 L917.0,269.1 L917.4,268.0 L917.7,267.8 L918.0,267.5 L918.4,268.9 L918.7,268.5 L919.1,266.6 L919.4,268.6 L919.8,269.6 L920.1,272.7 L920.5,272.8 L920.8,274.3 L921.2,275.4 L921.5,277.3 L921.9,278.7 L922.3,281.2 L922.6,282.6 L923.0,284.4 L923.4,283.9 L923.8,289.0 L924.1,289.0 L924.5,290.4 L924.9,290.9 L925.2,292.5 L925.5,292.0 L925.9,293.5 L926.2,291.2 L926.6,294.6 L927.0,297.0 L927.3,298.7 L927.7,297.2 L928.0,299.2 L928.4,297.5 L928.7,298.8 L929.1,297.8 L929.4,298.3 L929.8,298.1 L930.1,300.6 L930.5,300.7 L930.8,300.4 L931.2,302.1 L931.6,303.2 L931.9,307.2 L932.3,307.1 L932.6,307.1 L933.0,307.0 L933.3,306.6 L933.7,310.5 L934.1,304.0 L934.5,292.1 L934.8,291.4 L935.2,295.8 L935.5,294.2 L935.9,297.7 L936.2,295.5 L936.5,297.3 L936.9,296.8 L937.2,296.5 L937.6,298.5 L937.9,298.8 L938.2,296.4 L938.6,295.6 L938.9,291.6 L939.3,291.7 L939.6,290.4 L940.0,290.7 L940.3,290.4 L940.7,292.6 L941.0,294.3 L941.4,293.4 L941.7,295.5 L942.1,297.1 L942.4,296.0 L942.8,295.1 L943.1,294.4 L943.4,298.7 L943.8,298.0 L944.1,298.3 L944.4,299.7 L944.7,302.9 L945.1,298.8 L945.4,298.8 L945.7,299.5 L946.1,303.5 L946.4,305.3 L946.8,303.1 L947.1,305.5 L947.4,302.9 L947.8,301.9 L948.1,293.4 L948.5,294.6 L948.8,292.1 L949.2,287.3 L949.5,287.5 L949.9,285.0 L950.2,279.4 L950.6,276.6 L950.9,272.9 L951.3,271.9 L951.7,272.5 L952.0,273.2 L952.4,271.8 L952.7,271.2 L953.1,271.0 L953.4,272.8 L953.8,270.3 L954.1,271.2 L954.5,270.6 L954.8,272.2 L955.2,270.7 L955.5,267.8 L955.8,269.2 L956.2,265.3 L956.5,262.8 L956.9,265.9 L957.2,265.2 L957.6,266.9 L957.9,261.5 L958.2,266.1 L958.6,263.1 L958.9,261.7 L959.3,261.9 L959.6,260.5 L960.0,258.6 L960.3,257.6 L960.7,258.8 L961.0,259.0 L961.4,258.5 L961.8,259.0 L962.1,258.4 L962.5,258.1 L962.8,260.6 L963.2,257.2 L963.5,259.6 L963.9,260.2 L964.2,261.1 L964.6,259.7 L964.9,258.8 L965.2,259.7 L965.5,258.1 L965.9,259.4 L966.2,259.9 L966.5,255.6 L966.9,257.2 L967.2,256.0 L967.5,257.2 L967.9,257.9 L968.2,260.4 L968.6,259.6 L968.9,259.8 L969.2,259.6 L969.6,260.5 L969.9,260.2 L970.3,260.5 L970.6,263.6 L970.9,262.6 L971.3,264.7 L971.6,266.5 L972.0,263.3 L972.3,263.6 L972.6,265.9 L973.0,263.5 L973.3,265.5 L973.7,264.7 L974.0,263.6 L974.3,263.3 L974.6,264.2 L975.0,265.5 L975.3,266.3 L975.6,268.6 L975.9,267.7 L976.3,263.9 L976.6,263.7 L977.0,264.6 L977.3,261.9 L977.7,259.5 L978.0,257.5 L978.4,252.8 L978.7,251.9 L979.1,249.0 L979.4,246.7 L979.8,243.4 L980.1,246.9 L980.5,247.5 L980.8,242.0 L981.2,248.8 L981.5,250.1 L981.9,250.1" fill="none" stroke="#17aee6" stroke-width="2.9" stroke-linejoin="round"/><path d="M104.9,450.7 L107.0,450.8 L110.0,450.5 L113.4,450.6 L114.0,447.6 L114.6,450.4 L117.0,450.7 L120.0,450.4 L123.2,450.4 L123.5,451.6 L123.9,451.8 L124.2,452.7 L124.6,452.4 L125.0,452.6 L125.3,452.0 L125.7,452.1 L126.0,453.0 L126.4,454.0 L126.7,454.8 L127.0,454.8 L127.4,456.8 L127.7,456.3 L128.1,456.8 L128.4,456.5 L128.7,456.5 L129.1,456.4 L129.4,457.0 L129.8,458.4 L130.1,458.2 L130.4,458.3 L130.8,458.0 L131.1,459.2 L131.4,458.8 L131.8,458.2 L132.1,459.8 L132.4,459.4 L132.8,459.4 L133.1,459.1 L133.5,459.5 L133.8,459.9 L134.1,461.2 L134.5,459.5 L134.8,460.6 L135.2,460.8 L135.5,461.0 L135.9,460.7 L136.2,460.8 L136.6,460.7 L137.0,461.0 L137.3,460.4 L137.7,460.0 L138.1,459.2 L138.4,459.9 L138.8,460.4 L139.1,458.9 L139.5,460.9 L139.9,460.2 L140.2,459.5 L140.6,459.4 L141.0,459.8 L141.3,460.4 L141.7,459.3 L142.1,458.7 L142.4,459.5 L142.8,459.5 L143.1,459.6 L143.5,459.7 L143.9,459.9 L144.2,459.8 L144.6,460.3 L144.9,459.6 L145.3,459.9 L145.7,460.1 L146.0,459.9 L146.4,460.0 L146.7,459.9 L147.1,460.3 L147.4,461.5 L147.7,458.5 L148.0,459.5 L148.4,460.2 L148.7,460.0 L149.0,459.8 L149.4,459.9 L149.7,459.7 L150.0,459.9 L150.3,458.3 L150.7,459.6 L151.0,460.0 L151.3,459.9 L151.7,460.3 L152.0,460.6 L152.3,458.2 L152.6,460.7 L153.0,459.6 L153.3,460.0 L153.6,459.9 L154.0,460.6 L154.3,460.3 L154.6,459.4 L155.0,461.2 L155.3,458.9 L155.6,459.4 L156.0,459.7 L156.3,458.7 L156.6,458.5 L157.0,458.2 L157.3,459.9 L157.6,459.4 L158.0,458.8 L158.3,459.3 L158.6,458.6 L159.0,457.2 L159.3,459.3 L159.6,458.3 L160.0,458.1 L160.3,458.2 L160.6,457.8 L161.0,458.8 L161.3,458.4 L161.6,458.2 L161.9,459.1 L162.3,458.2 L162.6,458.4 L162.9,458.3 L163.3,459.1 L163.6,458.1 L163.9,459.1 L164.2,459.4 L164.6,459.3 L164.9,458.6 L165.2,458.5 L165.6,458.8 L165.9,458.3 L166.2,458.9 L166.5,459.7 L166.9,458.9 L167.2,458.8 L167.6,459.2 L167.9,459.0 L168.3,459.5 L168.6,458.9 L169.0,457.9 L169.4,457.9 L169.7,458.3 L170.1,458.5 L170.5,458.8 L170.8,458.2 L171.2,457.2 L171.6,458.9 L171.9,458.1 L172.3,456.9 L172.6,457.7 L173.0,458.2 L173.3,457.9 L173.7,455.7 L174.0,457.3 L174.4,457.2 L174.7,455.5 L175.1,454.9 L175.4,454.8 L175.8,455.4 L176.1,454.0 L176.5,454.5 L176.9,455.0 L177.2,455.2 L177.6,454.5 L177.9,454.5 L178.3,454.5 L178.7,453.0 L179.0,454.6 L179.4,454.6 L179.8,455.5 L180.1,454.3 L180.5,453.7 L180.8,454.4 L181.2,454.2 L181.5,453.9 L181.9,453.8 L182.2,453.1 L182.5,452.3 L182.8,454.7 L183.2,453.8 L183.5,452.8 L183.8,451.1 L184.2,451.3 L184.5,451.8 L184.8,452.2 L185.1,451.2 L185.5,451.6 L185.8,451.3 L186.2,450.7 L186.5,449.3 L186.9,448.9 L187.2,448.8 L187.6,448.1 L187.9,447.8 L188.2,447.8 L188.6,446.6 L189.0,445.4 L189.3,444.9 L189.6,444.3 L190.0,446.2 L190.3,444.0 L190.6,443.0 L190.9,443.5 L191.3,444.6 L191.6,444.0 L191.9,444.6 L192.3,442.7 L192.6,443.5 L192.9,444.3 L193.2,443.0 L193.6,443.9 L193.9,443.2 L194.2,443.5 L194.6,446.3 L195.0,443.4 L195.3,445.0 L195.7,444.6 L196.0,445.7 L196.3,445.4 L196.7,446.3 L197.1,446.2 L197.4,446.1 L197.7,445.1 L198.1,442.8 L198.4,443.1 L198.7,443.8 L199.0,442.8 L199.4,441.3 L199.7,440.6 L200.0,440.3 L200.4,439.6 L200.7,436.1 L201.0,437.5 L201.3,437.6 L201.7,434.6 L202.0,435.1 L202.4,434.4 L202.7,433.6 L203.1,433.6 L203.4,431.8 L203.8,429.8 L204.1,428.5 L204.5,429.5 L204.8,429.1 L205.1,428.8 L205.4,429.2 L205.8,428.7 L206.1,429.6 L206.4,428.5 L206.8,430.2 L207.1,430.2 L207.4,428.2 L207.7,429.7 L208.1,429.2 L208.4,429.3 L208.8,429.3 L209.1,431.1 L209.5,431.6 L209.9,431.9 L210.2,434.1 L210.6,434.7 L210.9,436.4 L211.3,437.4 L211.7,438.1 L212.0,434.0 L212.4,436.0 L212.7,436.6 L213.1,436.2 L213.4,436.4 L213.8,435.8 L214.1,436.2 L214.5,434.4 L214.8,435.1 L215.2,436.1 L215.5,434.5 L215.9,433.2 L216.2,434.5 L216.6,433.9 L216.9,433.9 L217.2,432.9 L217.6,434.5 L218.0,432.1 L218.3,432.7 L218.7,433.8 L219.1,433.2 L219.4,433.8 L219.8,435.6 L220.2,435.4 L220.6,434.7 L220.9,436.4 L221.3,437.1 L221.7,434.4 L222.1,434.7 L222.4,435.1 L222.8,436.7 L223.2,437.3 L223.5,437.6 L223.9,437.0 L224.2,436.2 L224.6,437.6 L225.0,436.8 L225.3,438.5 L225.7,437.2 L226.1,439.0 L226.4,436.9 L226.8,437.6 L227.1,440.7 L227.5,435.4 L227.9,436.9 L228.2,437.7 L228.6,437.8 L229.0,437.2 L229.3,437.2 L229.7,439.0 L230.0,437.7 L230.4,439.3 L230.7,439.6 L231.1,438.9 L231.4,438.6 L231.8,439.3 L232.2,440.7 L232.5,438.2 L232.9,439.1 L233.2,439.0 L233.6,440.6 L233.9,439.5 L234.3,439.5 L234.7,441.0 L235.0,438.7 L235.4,441.9 L235.7,441.5 L236.1,441.9 L236.4,441.5 L236.8,441.5 L237.1,441.8 L237.5,443.7 L237.8,444.2 L238.1,443.7 L238.5,443.2 L238.8,444.5 L239.1,444.7 L239.5,443.0 L239.8,443.8 L240.2,443.9 L240.5,444.3 L240.8,443.0 L241.2,443.7 L241.5,444.3 L241.8,444.7 L242.2,443.2 L242.5,443.6 L242.8,443.5 L243.2,443.6 L243.5,442.4 L243.8,443.7 L244.1,442.3 L244.5,442.1 L244.8,442.1 L245.1,442.3 L245.5,443.2 L245.8,440.5 L246.1,443.6 L246.4,440.4 L246.8,440.8 L247.1,440.7 L247.4,441.5 L247.8,444.2 L248.2,441.6 L248.5,441.4 L248.8,441.5 L249.2,442.5 L249.5,441.6 L249.9,443.4 L250.2,444.1 L250.6,442.4 L250.9,442.9 L251.3,443.3 L251.7,443.4 L252.0,444.6 L252.3,444.1 L252.7,445.0 L253.0,444.0 L253.4,446.5 L253.8,446.0 L254.1,445.9 L254.5,445.5 L254.8,446.3 L255.2,446.2 L255.6,447.0 L255.9,446.1 L256.3,446.5 L256.6,445.0 L257.0,446.5 L257.4,446.5 L257.7,447.6 L258.1,446.1 L258.4,446.9 L258.8,446.7 L259.2,447.1 L259.5,447.6 L259.9,447.1 L260.3,446.6 L260.6,448.0 L261.0,445.9 L261.3,446.7 L261.7,446.7 L262.1,447.0 L262.4,448.0 L262.8,447.4 L263.2,448.9 L263.5,449.1 L263.9,445.5 L264.2,447.5 L264.6,447.9 L265.0,448.3 L265.3,448.1 L265.7,447.7 L266.0,447.5 L266.4,447.1 L266.7,448.0 L267.0,447.1 L267.3,446.8 L267.7,447.1 L268.0,447.4 L268.3,445.7 L268.7,448.7 L269.0,446.3 L269.3,447.0 L269.6,447.6 L270.0,446.5 L270.3,447.1 L270.6,447.3 L271.0,447.1 L271.3,447.5 L271.6,445.8 L271.9,446.8 L272.3,445.2 L272.6,445.4 L272.9,445.3 L273.3,445.6 L273.6,444.9 L273.9,445.1 L274.2,444.3 L274.6,445.0 L274.9,443.6 L275.2,443.6 L275.6,442.0 L275.9,443.6 L276.2,443.2 L276.6,441.9 L276.9,443.2 L277.2,442.5 L277.6,441.9 L277.9,443.1 L278.3,441.3 L278.6,442.9 L278.9,443.8 L279.3,439.8 L279.6,441.3 L280.0,441.8 L280.3,440.4 L280.7,440.8 L281.1,441.8 L281.4,440.7 L281.8,439.1 L282.1,438.7 L282.5,439.9 L282.9,440.4 L283.2,440.7 L283.6,436.8 L283.9,439.6 L284.3,439.9 L284.7,441.7 L285.0,438.0 L285.4,438.4 L285.8,438.0 L286.1,437.2 L286.5,440.2 L286.8,439.5 L287.2,438.9 L287.6,439.7 L287.9,440.5 L288.3,439.9 L288.7,439.7 L289.0,440.3 L289.4,439.9 L289.8,439.5 L290.1,440.0 L290.5,440.0 L290.8,440.6 L291.2,441.3 L291.5,442.9 L291.9,442.7 L292.2,442.2 L292.6,443.8 L292.9,444.2 L293.2,445.5 L293.6,446.0 L293.9,446.7 L294.3,447.0 L294.6,447.1 L294.9,447.6 L295.3,449.3 L295.6,450.9 L296.0,451.4 L296.3,454.2 L296.7,452.1 L297.0,454.6 L297.3,454.3 L297.7,451.5 L298.0,453.5 L298.3,452.9 L298.6,451.7 L299.0,450.7 L299.3,450.6 L299.6,450.1 L300.0,450.5 L300.3,451.1 L300.6,450.6 L300.9,451.0 L301.3,451.2 L301.6,450.0 L301.9,450.3 L302.3,448.6 L302.6,447.7 L302.9,448.6 L303.2,451.6 L303.6,450.8 L303.9,449.4 L304.2,448.9 L304.6,449.3 L304.9,449.1 L305.2,448.6 L305.5,449.3 L305.9,448.6 L306.2,448.8 L306.6,448.8 L306.9,448.1 L307.2,446.9 L307.6,446.9 L307.9,447.4 L308.3,447.4 L308.6,446.5 L309.0,447.0 L309.3,446.6 L309.7,445.9 L310.0,445.6 L310.4,446.0 L310.7,446.2 L311.0,445.5 L311.3,445.2 L311.7,442.8 L312.0,443.6 L312.3,444.2 L312.7,442.4 L313.0,442.9 L313.3,444.9 L313.6,443.2 L314.0,442.0 L314.3,441.3 L314.7,441.9 L315.0,439.6 L315.4,441.0 L315.8,441.3 L316.1,440.5 L316.5,440.7 L316.8,441.4 L317.2,440.7 L317.6,440.2 L317.9,441.0 L318.3,441.4 L318.7,440.5 L319.0,441.0 L319.4,439.8 L319.7,441.4 L320.1,440.1 L320.5,441.0 L320.8,440.5 L321.2,439.7 L321.6,440.0 L321.9,439.6 L322.3,439.7 L322.6,440.4 L323.0,439.8 L323.4,439.0 L323.7,438.0 L324.1,436.7 L324.4,437.0 L324.8,439.6 L325.2,438.5 L325.5,437.8 L325.9,439.5 L326.3,440.1 L326.6,439.7 L327.0,439.7 L327.3,441.4 L327.7,440.9 L328.0,440.1 L328.4,439.0 L328.8,441.7 L329.1,441.3 L329.5,439.6 L329.8,442.0 L330.2,440.8 L330.6,441.1 L330.9,440.7 L331.3,441.9 L331.7,439.3 L332.0,440.0 L332.4,439.9 L332.8,440.9 L333.1,441.5 L333.5,441.0 L333.9,440.6 L334.2,442.8 L334.6,440.6 L335.0,441.6 L335.4,441.1 L335.7,440.7 L336.1,442.5 L336.5,440.7 L336.8,441.1 L337.2,441.8 L337.6,441.3 L337.9,441.2 L338.3,440.1 L338.7,441.4 L339.0,442.0 L339.4,442.7 L339.8,440.6 L340.1,442.2 L340.5,441.4 L340.9,439.4 L341.3,441.3 L341.7,440.0 L342.1,438.4 L342.4,437.2 L342.8,436.3 L343.2,437.0 L343.6,435.3 L343.9,434.0 L344.3,436.5 L344.6,435.0 L345.0,436.0 L345.3,432.8 L345.6,434.3 L346.0,434.6 L346.3,434.9 L346.6,435.1 L347.0,434.1 L347.3,432.3 L347.7,434.8 L348.0,434.8 L348.3,433.9 L348.7,434.0 L349.0,434.7 L349.3,433.1 L349.7,433.8 L350.0,433.3 L350.4,433.7 L350.7,433.2 L351.0,433.3 L351.4,433.1 L351.7,432.3 L352.1,434.4 L352.4,435.0 L352.8,433.9 L353.1,433.2 L353.5,433.5 L353.8,433.4 L354.1,435.4 L354.5,435.2 L354.8,434.6 L355.2,434.8 L355.5,434.5 L355.9,432.9 L356.2,435.6 L356.6,434.0 L356.9,435.3 L357.2,436.5 L357.6,436.7 L357.9,435.0 L358.2,436.6 L358.6,437.1 L358.9,438.4 L359.2,439.3 L359.6,438.6 L359.9,437.2 L360.3,435.3 L360.6,438.2 L361.0,437.7 L361.3,438.3 L361.7,435.8 L362.0,436.9 L362.3,435.9 L362.7,437.3 L363.0,437.0 L363.4,437.8 L363.7,438.9 L364.1,438.4 L364.4,436.0 L364.8,436.4 L365.1,436.3 L365.4,436.6 L365.8,436.4 L366.1,438.1 L366.5,437.3 L366.8,435.3 L367.1,435.6 L367.5,434.3 L367.8,434.2 L368.1,435.5 L368.5,435.4 L368.8,437.1 L369.2,435.0 L369.5,434.6 L369.8,435.4 L370.2,434.0 L370.5,435.1 L370.9,433.8 L371.2,434.3 L371.5,434.1 L371.9,432.4 L372.2,433.3 L372.6,429.8 L372.9,431.5 L373.2,430.2 L373.6,428.4 L373.9,429.8 L374.3,429.9 L374.6,426.9 L375.0,426.6 L375.3,426.1 L375.6,427.9 L376.0,425.4 L376.3,426.0 L376.7,426.6 L377.0,423.4 L377.4,424.1 L377.7,422.3 L378.0,424.9 L378.4,425.7 L378.7,421.1 L379.1,422.4 L379.4,422.0 L379.7,420.8 L380.1,419.4 L380.4,419.3 L380.8,416.7 L381.1,417.6 L381.4,416.9 L381.8,413.8 L382.1,413.6 L382.5,415.4 L382.8,414.1 L383.2,412.3 L383.5,411.7 L383.8,414.1 L384.2,409.5 L384.5,411.4 L384.9,411.8 L385.2,411.1 L385.6,410.7 L385.9,410.2 L386.2,410.4 L386.6,411.3 L386.9,408.2 L387.3,410.3 L387.6,409.7 L387.9,409.8 L388.3,408.3 L388.6,407.7 L389.0,409.4 L389.3,411.0 L389.6,410.2 L390.0,409.1 L390.3,412.0 L390.7,410.8 L391.0,411.1 L391.4,410.5 L391.7,410.7 L392.0,408.6 L392.4,404.7 L392.7,404.2 L393.0,401.0 L393.3,399.7 L393.7,397.2 L394.0,396.3 L394.3,394.2 L394.7,392.0 L395.0,394.6 L395.3,388.7 L395.6,390.7 L396.0,386.5 L396.3,383.5 L396.6,390.1 L397.0,387.2 L397.3,385.1 L397.6,382.9 L398.0,376.5 L398.3,366.2 L398.7,363.7 L399.0,362.7 L399.3,359.1 L399.7,354.7 L400.0,354.6 L400.4,345.2 L400.7,340.3 L401.1,340.8 L401.4,344.7 L401.8,344.9 L402.2,354.3 L402.5,351.5 L402.9,351.5 L403.3,354.2 L403.6,353.1 L404.0,363.7 L404.4,356.2 L404.7,356.9 L405.1,358.2 L405.4,356.7 L405.8,356.1 L406.1,351.6 L406.4,356.0 L406.7,346.6 L407.1,351.4 L407.4,349.2 L407.8,353.7 L408.1,358.0 L408.5,351.1 L408.9,352.4 L409.2,354.6 L409.6,356.0 L409.9,352.4 L410.3,349.6 L410.6,340.7 L410.9,345.9 L411.2,335.3 L411.6,338.5 L411.9,333.6 L412.3,330.7 L412.6,327.7 L413.0,314.5 L413.4,323.8 L413.7,315.9 L414.1,311.2 L414.4,306.1 L414.8,305.1 L415.1,300.6 L415.4,305.6 L415.8,300.3 L416.2,297.3 L416.6,283.9 L416.9,288.3 L417.3,287.3 L417.6,298.9 L418.0,299.5 L418.3,299.2 L418.7,300.6 L419.0,305.6 L419.4,308.0 L419.7,312.5 L420.1,307.5 L420.4,315.6 L420.8,310.1 L421.1,317.2 L421.5,317.7 L421.8,309.3 L422.2,302.8 L422.5,297.7 L422.9,291.7 L423.2,295.5 L423.6,281.2 L423.9,273.0 L424.2,278.0 L424.6,269.2 L424.9,278.3 L425.3,281.0 L425.6,282.7 L426.0,284.8 L426.3,286.3 L426.6,286.9 L427.0,289.5 L427.3,299.3 L427.7,300.8 L428.0,295.2 L428.4,301.3 L428.7,300.8 L429.0,297.0 L429.4,293.6 L429.7,289.4 L430.1,289.4 L430.4,288.5 L430.8,276.9 L431.1,279.0 L431.5,280.1 L431.8,272.8 L432.2,280.2 L432.5,278.6 L432.9,276.5 L433.2,278.1 L433.6,281.5 L434.0,273.6 L434.4,269.9 L434.8,263.3 L435.1,266.1 L435.5,274.6 L435.8,273.9 L436.2,264.8 L436.5,274.4 L436.9,275.5 L437.2,276.6 L437.5,278.7 L437.9,281.0 L438.2,284.8 L438.6,286.9 L438.9,286.0 L439.3,286.0 L439.6,291.1 L439.9,291.2 L440.3,292.1 L440.6,283.5 L441.0,292.5 L441.3,290.4 L441.7,286.4 L442.0,280.2 L442.3,278.4 L442.7,293.1 L443.0,295.5 L443.4,288.5 L443.7,292.1 L444.1,293.0 L444.4,293.6 L444.8,297.4 L445.1,300.8 L445.5,306.2 L445.8,303.1 L446.2,311.9 L446.5,316.4 L446.9,317.7 L447.2,322.3 L447.6,325.1 L447.9,324.2 L448.3,327.9 L448.6,334.1 L449.0,340.3 L449.3,341.9 L449.6,343.0 L450.0,343.4 L450.3,347.9 L450.7,345.0 L451.0,353.3 L451.4,348.3 L451.7,354.0 L452.0,351.5 L452.4,352.4 L452.7,347.0 L453.1,351.7 L453.4,350.9 L453.8,345.5 L454.1,344.4 L454.4,341.9 L454.8,349.6 L455.1,354.3 L455.5,352.1 L455.8,354.5 L456.2,350.2 L456.5,351.6 L456.9,352.9 L457.2,355.3 L457.6,355.3 L458.0,361.6 L458.4,358.9 L458.7,357.7 L459.1,360.0 L459.5,362.6 L459.8,362.9 L460.2,366.1 L460.5,364.4 L460.9,364.3 L461.2,357.0 L461.6,357.6 L461.9,361.5 L462.3,360.2 L462.6,356.5 L462.9,353.3 L463.3,362.3 L463.6,360.1 L464.0,356.4 L464.3,360.0 L464.7,363.2 L465.0,362.6 L465.3,367.0 L465.7,362.1 L466.0,365.4 L466.4,368.6 L466.7,365.0 L467.1,365.4 L467.4,368.6 L467.8,367.6 L468.1,359.6 L468.5,359.5 L468.9,347.2 L469.3,351.1 L469.6,346.5 L470.0,344.4 L470.4,340.6 L470.7,341.3 L471.1,343.2 L471.5,338.1 L471.9,335.1 L472.2,338.4 L472.6,333.9 L472.9,332.5 L473.2,333.0 L473.6,332.0 L473.9,328.0 L474.2,329.5 L474.6,326.1 L474.9,323.0 L475.2,325.0 L475.5,327.8 L475.9,317.6 L476.2,321.2 L476.5,318.3 L476.8,319.2 L477.1,318.9 L477.5,315.4 L477.8,316.4 L478.1,313.0 L478.4,314.4 L478.8,313.6 L479.1,314.1 L479.4,308.1 L479.8,314.2 L480.1,311.2 L480.4,310.4 L480.7,310.5 L481.1,305.7 L481.4,311.8 L481.7,303.0 L482.0,304.5 L482.4,306.5 L482.7,303.0 L483.0,306.9 L483.3,304.3 L483.7,304.1 L484.0,303.4 L484.3,302.6 L484.6,303.6 L485.0,303.3 L485.3,307.8 L485.6,308.5 L486.0,308.0 L486.3,309.7 L486.7,316.3 L487.0,315.7 L487.4,317.6 L487.7,319.7 L488.1,316.4 L488.5,316.4 L488.9,319.2 L489.2,316.7 L489.6,318.3 L490.0,318.2 L490.3,319.8 L490.7,327.8 L491.1,321.8 L491.5,315.1 L491.8,325.2 L492.2,328.7 L492.6,325.0 L492.9,321.0 L493.3,324.4 L493.7,321.3 L494.1,314.1 L494.4,317.3 L494.8,313.0 L495.2,305.3 L495.5,304.8 L495.9,304.9 L496.3,303.0 L496.7,302.3 L497.0,294.0 L497.4,292.2 L497.8,289.6 L498.1,287.3 L498.5,279.0 L498.9,278.6 L499.3,277.0 L499.6,272.8 L500.0,268.7 L500.3,264.5 L500.6,256.7 L501.0,259.8 L501.3,255.7 L501.7,255.3 L502.0,261.3 L502.4,263.8 L502.8,271.3 L503.2,260.3 L503.5,270.2 L503.9,273.9 L504.3,267.3 L504.6,268.0 L505.0,262.5 L505.4,261.1 L505.8,263.1 L506.1,260.3 L506.5,258.3 L506.8,258.5 L507.1,260.0 L507.5,256.0 L507.8,250.4 L508.2,250.0 L508.5,256.6 L508.9,257.4 L509.3,261.2 L509.7,269.1 L510.0,265.5 L510.4,268.7 L510.8,270.2 L511.1,275.9 L511.5,274.8 L511.9,274.5 L512.3,275.4 L512.6,282.5 L513.0,279.1 L513.3,279.4 L513.7,279.0 L514.0,282.6 L514.4,284.2 L514.7,287.2 L515.0,292.1 L515.4,293.2 L515.7,292.2 L516.1,295.5 L516.4,299.5 L516.8,299.8 L517.2,301.3 L517.6,302.5 L517.9,302.7 L518.3,305.2 L518.7,307.3 L519.0,314.6 L519.4,307.7 L519.8,311.3 L520.2,311.1 L520.5,315.3 L520.9,315.7 L521.2,313.8 L521.5,314.6 L521.9,312.2 L522.2,308.4 L522.5,310.7 L522.8,310.4 L523.2,310.0 L523.5,312.0 L523.8,313.5 L524.1,305.8 L524.5,309.2 L524.8,305.2 L525.1,309.7 L525.5,312.7 L525.8,310.1 L526.2,316.0 L526.5,318.5 L526.9,314.5 L527.2,317.9 L527.5,318.2 L527.9,324.2 L528.2,323.6 L528.5,324.5 L528.8,331.0 L529.2,330.2 L529.5,333.5 L529.8,333.5 L530.2,332.3 L530.5,333.6 L530.8,334.3 L531.1,332.4 L531.5,333.5 L531.8,328.7 L532.1,331.6 L532.5,330.1 L532.8,331.3 L533.1,334.9 L533.5,333.2 L533.8,341.0 L534.1,342.2 L534.4,348.3 L534.8,348.8 L535.1,349.2 L535.5,344.7 L535.8,348.7 L536.2,349.4 L536.6,349.8 L536.9,345.3 L537.3,344.7 L537.6,347.2 L538.0,343.5 L538.3,337.1 L538.6,339.0 L539.0,335.8 L539.3,334.1 L539.6,336.2 L539.9,334.9 L540.3,328.2 L540.6,326.8 L540.9,326.6 L541.3,324.3 L541.6,329.8 L541.9,333.1 L542.2,328.5 L542.6,332.4 L542.9,333.5 L543.3,339.7 L543.6,333.8 L544.0,338.8 L544.4,345.7 L544.7,349.1 L545.1,349.2 L545.5,346.3 L545.8,343.4 L546.2,338.7 L546.6,334.7 L546.9,333.3 L547.3,326.8 L547.6,332.5 L548.0,331.5 L548.3,338.1 L548.6,339.4 L548.9,342.8 L549.3,341.8 L549.6,344.7 L549.9,347.0 L550.3,341.5 L550.6,337.5 L550.9,337.4 L551.2,340.2 L551.6,340.0 L551.9,335.6 L552.2,338.3 L552.6,339.0 L552.9,335.8 L553.2,333.9 L553.6,333.5 L553.9,331.6 L554.3,327.5 L554.6,328.0 L554.9,322.9 L555.3,323.1 L555.6,324.5 L556.0,318.3 L556.3,320.1 L556.7,320.3 L557.0,318.9 L557.4,316.8 L557.8,311.0 L558.1,320.0 L558.5,317.9 L558.8,319.4 L559.2,317.1 L559.5,319.5 L559.8,325.8 L560.1,319.5 L560.5,323.0 L560.8,324.6 L561.2,329.0 L561.5,327.2 L561.9,330.4 L562.3,333.5 L562.6,336.6 L563.0,338.0 L563.3,340.9 L563.7,337.3 L564.0,339.9 L564.3,338.5 L564.6,340.2 L565.0,339.2 L565.3,338.2 L565.6,337.1 L566.0,345.4 L566.3,342.5 L566.6,340.9 L567.0,346.0 L567.3,340.1 L567.7,344.2 L568.0,343.6 L568.3,346.7 L568.7,347.0 L569.0,343.6 L569.4,345.0 L569.7,344.7 L570.1,348.6 L570.4,348.6 L570.8,351.0 L571.2,353.4 L571.5,357.4 L571.9,360.3 L572.2,364.2 L572.6,366.6 L572.9,364.0 L573.2,368.0 L573.5,372.0 L573.9,370.4 L574.2,373.7 L574.5,376.2 L574.9,373.5 L575.2,373.5 L575.5,374.3 L575.9,372.6 L576.2,375.8 L576.5,369.1 L576.8,374.0 L577.2,374.2 L577.5,371.5 L577.8,370.8 L578.2,365.8 L578.5,371.6 L578.9,370.5 L579.2,371.5 L579.5,370.8 L579.9,369.7 L580.2,371.7 L580.6,372.6 L580.9,371.5 L581.3,374.9 L581.6,372.3 L582.0,377.9 L582.4,374.2 L582.7,377.4 L583.1,378.2 L583.5,382.2 L583.8,379.2 L584.2,386.2 L584.6,388.5 L584.9,390.7 L585.3,393.9 L585.6,397.1 L586.0,396.0 L586.3,401.0 L586.6,401.3 L586.9,402.6 L587.3,406.2 L587.6,405.0 L588.0,406.7 L588.3,409.2 L588.7,407.9 L589.1,408.8 L589.4,409.7 L589.8,410.5 L590.2,410.7 L590.5,408.7 L590.9,411.3 L591.3,403.6 L591.6,407.0 L592.0,407.0 L592.3,406.2 L592.7,407.8 L593.0,407.1 L593.3,401.5 L593.6,408.3 L594.0,404.3 L594.3,404.5 L594.7,403.5 L595.0,405.9 L595.4,404.6 L595.8,400.5 L596.1,406.6 L596.5,402.0 L596.9,401.4 L597.2,398.8 L597.6,401.1 L598.0,398.7 L598.3,399.2 L598.7,399.5 L599.0,398.7 L599.4,401.4 L599.7,397.3 L600.0,399.8 L600.3,398.7 L600.7,397.4 L601.0,397.2 L601.3,397.1 L601.6,394.3 L602.0,395.8 L602.3,395.4 L602.6,395.4 L603.0,394.7 L603.3,394.2 L603.7,394.3 L604.1,388.8 L604.5,393.2 L604.8,393.4 L605.2,392.8 L605.5,392.4 L605.9,395.2 L606.2,394.1 L606.5,394.2 L606.9,398.9 L607.2,398.0 L607.6,397.5 L607.9,400.4 L608.3,397.8 L608.7,398.4 L609.1,399.9 L609.4,400.9 L609.8,401.9 L610.2,403.1 L610.6,405.0 L610.9,406.0 L611.3,407.2 L611.7,407.2 L612.0,406.5 L612.4,405.7 L612.7,406.0 L613.0,406.5 L613.3,405.0 L613.7,405.9 L614.0,406.1 L614.3,401.2 L614.6,404.7 L615.0,405.3 L615.3,405.5 L615.6,404.5 L615.9,404.0 L616.3,406.0 L616.6,405.9 L616.9,407.7 L617.3,407.2 L617.6,407.1 L617.9,404.6 L618.3,407.9 L618.6,408.8 L618.9,408.9 L619.3,408.3 L619.6,409.8 L619.9,412.3 L620.2,411.8 L620.6,411.2 L620.9,411.2 L621.2,409.7 L621.5,408.5 L621.9,407.2 L622.2,408.1 L622.5,409.3 L622.9,407.8 L623.2,408.4 L623.5,407.2 L623.8,409.0 L624.1,409.7 L624.5,411.1 L624.8,408.9 L625.1,407.3 L625.5,409.1 L625.8,411.2 L626.1,408.1 L626.4,408.9 L626.8,407.9 L627.1,409.4 L627.4,411.1 L627.8,410.5 L628.1,410.7 L628.5,412.8 L628.9,412.0 L629.3,411.8 L629.6,407.7 L630.0,407.5 L630.4,406.7 L630.7,403.9 L631.1,407.1 L631.5,406.1 L631.9,405.8 L632.2,406.9 L632.6,403.9 L632.9,408.4 L633.3,405.3 L633.6,403.4 L633.9,407.8 L634.2,405.5 L634.6,407.2 L634.9,408.5 L635.2,405.7 L635.6,406.9 L635.9,407.2 L636.3,408.0 L636.6,410.4 L637.0,410.7 L637.4,412.4 L637.8,414.7 L638.1,415.2 L638.5,416.3 L638.9,415.6 L639.2,413.9 L639.6,420.0 L640.0,417.2 L640.4,418.5 L640.7,420.4 L641.1,420.2 L641.4,419.4 L641.7,419.3 L642.1,416.1 L642.4,417.0 L642.7,418.2 L643.0,418.9 L643.3,415.4 L643.7,417.5 L644.0,416.5 L644.3,416.3 L644.6,416.6 L645.0,413.9 L645.3,410.3 L645.6,411.1 L645.9,413.5 L646.3,415.1 L646.6,413.7 L646.9,412.6 L647.3,411.7 L647.6,413.1 L647.9,414.5 L648.2,411.4 L648.6,413.8 L648.9,411.1 L649.2,412.7 L649.6,411.2 L649.9,410.4 L650.2,412.8 L650.5,413.7 L650.9,415.5 L651.2,411.6 L651.5,415.6 L651.9,415.9 L652.2,416.3 L652.5,416.6 L652.9,417.0 L653.2,414.7 L653.5,415.9 L653.8,416.8 L654.2,417.0 L654.5,415.8 L654.8,416.7 L655.1,416.1 L655.5,416.4 L655.8,417.2 L656.1,417.6 L656.5,416.8 L656.8,415.6 L657.2,415.7 L657.6,416.8 L658.0,415.7 L658.3,414.9 L658.7,415.0 L659.1,412.1 L659.4,411.5 L659.8,409.2 L660.2,406.9 L660.6,404.9 L660.9,405.8 L661.3,403.2 L661.6,402.4 L661.9,400.3 L662.3,403.1 L662.6,400.6 L662.9,401.0 L663.2,399.9 L663.6,399.8 L663.9,396.9 L664.2,398.4 L664.6,398.4 L664.9,396.3 L665.2,396.7 L665.5,394.7 L665.9,396.9 L666.2,397.8 L666.5,397.2 L666.8,396.6 L667.2,398.6 L667.5,399.3 L667.8,398.7 L668.1,396.6 L668.5,401.8 L668.8,400.8 L669.1,400.6 L669.5,399.8 L669.8,397.1 L670.2,395.9 L670.6,397.9 L671.0,399.4 L671.3,393.5 L671.7,392.8 L672.0,392.9 L672.4,395.0 L672.7,394.3 L673.0,396.4 L673.3,393.0 L673.7,394.8 L674.0,395.6 L674.3,394.0 L674.6,395.0 L675.0,396.7 L675.3,395.6 L675.6,396.7 L675.9,396.8 L676.3,398.0 L676.6,399.3 L676.9,403.2 L677.2,401.2 L677.6,399.5 L677.9,404.9 L678.2,406.6 L678.6,406.0 L678.9,405.8 L679.3,403.0 L679.6,397.6 L680.0,395.0 L680.4,390.5 L680.8,389.4 L681.1,387.3 L681.5,383.7 L681.8,384.2 L682.1,378.0 L682.5,380.1 L682.8,383.2 L683.1,381.8 L683.4,384.0 L683.7,382.3 L684.1,380.3 L684.4,381.0 L684.7,379.8 L685.0,379.0 L685.4,381.4 L685.7,374.3 L686.0,379.5 L686.4,380.6 L686.7,380.5 L687.0,378.5 L687.4,379.9 L687.7,379.4 L688.0,381.1 L688.4,380.3 L688.7,381.1 L689.1,380.2 L689.5,375.3 L689.8,377.0 L690.2,373.7 L690.6,372.0 L691.0,372.7 L691.3,372.0 L691.7,374.1 L692.1,374.1 L692.5,371.4 L692.8,374.3 L693.2,377.2 L693.5,376.6 L693.9,380.6 L694.2,378.6 L694.5,379.4 L694.9,376.5 L695.2,375.0 L695.5,375.4 L695.8,379.0 L696.2,376.9 L696.5,375.9 L696.8,376.0 L697.1,375.9 L697.5,379.8 L697.8,381.3 L698.1,377.9 L698.4,379.2 L698.8,380.8 L699.1,381.7 L699.4,383.0 L699.8,379.7 L700.1,382.3 L700.4,383.8 L700.8,384.9 L701.1,384.0 L701.4,384.3 L701.8,380.7 L702.1,384.2 L702.5,381.9 L702.8,382.7 L703.2,383.5 L703.5,383.1 L703.8,384.1 L704.2,382.8 L704.5,382.0 L704.9,382.8 L705.2,383.0 L705.5,382.6 L705.9,380.3 L706.2,380.5 L706.6,383.3 L706.9,381.6 L707.2,383.5 L707.6,384.1 L707.9,383.5 L708.3,386.9 L708.6,383.2 L709.0,383.3 L709.3,384.0 L709.7,388.6 L710.1,389.0 L710.5,386.1 L710.8,387.1 L711.2,385.3 L711.6,389.6 L712.0,392.1 L712.4,390.2 L712.8,388.9 L713.2,388.0 L713.6,382.6 L714.0,380.9 L714.3,377.1 L714.7,378.3 L715.1,371.8 L715.5,371.7 L715.8,371.0 L716.2,372.2 L716.5,371.3 L716.9,374.6 L717.2,370.8 L717.5,371.2 L717.9,371.1 L718.2,370.2 L718.6,368.2 L718.9,368.6 L719.3,372.5 L719.6,370.7 L719.9,368.6 L720.3,369.0 L720.6,373.7 L721.0,372.9 L721.3,368.7 L721.7,371.2 L722.0,370.6 L722.3,371.0 L722.7,373.2 L723.0,369.5 L723.4,374.4 L723.7,371.7 L724.0,369.6 L724.4,374.3 L724.7,375.0 L725.1,377.0 L725.4,374.4 L725.8,373.8 L726.1,371.9 L726.4,372.5 L726.8,376.3 L727.1,377.0 L727.5,374.5 L727.8,375.8 L728.1,379.3 L728.5,372.7 L728.8,377.4 L729.2,376.2 L729.5,377.6 L729.8,376.3 L730.2,375.3 L730.5,379.4 L730.9,378.5 L731.2,372.2 L731.6,377.5 L731.9,376.8 L732.3,376.3 L732.7,379.4 L733.1,376.2 L733.5,377.4 L733.8,374.5 L734.2,373.9 L734.6,378.7 L735.0,377.9 L735.3,380.6 L735.7,384.3 L736.0,386.1 L736.3,387.9 L736.7,385.0 L737.0,384.6 L737.4,386.0 L737.7,384.3 L738.0,385.1 L738.4,387.1 L738.7,383.6 L739.1,381.8 L739.4,384.4 L739.8,385.5 L740.1,384.0 L740.4,383.1 L740.8,383.5 L741.1,382.8 L741.5,383.7 L741.8,384.9 L742.2,385.1 L742.5,384.6 L742.8,384.3 L743.2,388.0 L743.5,386.9 L743.9,386.6 L744.2,386.1 L744.5,386.1 L744.9,382.9 L745.2,382.1 L745.6,383.7 L745.9,384.6 L746.2,384.1 L746.6,386.4 L746.9,381.9 L747.3,382.5 L747.6,381.5 L748.0,381.6 L748.3,382.0 L748.6,383.0 L749.0,383.9 L749.3,383.0 L749.7,381.5 L750.0,378.7 L750.3,381.4 L750.7,379.3 L751.0,381.7 L751.4,379.7 L751.7,385.0 L752.1,380.7 L752.4,380.9 L752.7,380.0 L753.1,378.2 L753.4,376.0 L753.8,380.4 L754.1,380.1 L754.5,379.4 L754.8,380.7 L755.1,379.1 L755.5,382.8 L755.8,379.6 L756.2,375.7 L756.5,377.9 L756.8,372.6 L757.2,370.6 L757.5,366.6 L757.8,369.2 L758.2,366.6 L758.5,361.5 L758.9,362.0 L759.2,360.1 L759.5,360.5 L759.9,356.7 L760.2,354.3 L760.6,357.4 L760.9,357.3 L761.3,357.8 L761.6,357.8 L762.0,358.2 L762.3,356.6 L762.7,355.4 L763.0,353.2 L763.3,352.2 L763.7,356.6 L764.0,354.5 L764.4,356.4 L764.7,353.3 L765.0,353.4 L765.4,352.7 L765.7,353.6 L766.1,349.9 L766.4,350.6 L766.8,352.2 L767.1,351.7 L767.4,353.3 L767.8,350.2 L768.1,351.4 L768.5,350.5 L768.8,351.2 L769.1,351.7 L769.5,353.8 L769.8,347.8 L770.1,350.0 L770.5,351.3 L770.8,352.9 L771.1,349.9 L771.5,350.6 L771.8,349.2 L772.1,342.4 L772.5,342.8 L772.8,339.3 L773.2,339.7 L773.5,332.8 L773.9,328.7 L774.2,329.1 L774.6,330.6 L774.9,330.2 L775.2,327.6 L775.6,334.7 L775.9,332.8 L776.3,335.7 L776.7,324.4 L777.1,333.1 L777.5,331.8 L777.8,333.0 L778.2,328.9 L778.6,329.7 L779.0,330.7 L779.3,330.0 L779.7,329.8 L780.0,328.0 L780.4,331.7 L780.7,326.0 L781.0,327.6 L781.4,324.3 L781.7,325.8 L782.1,326.1 L782.4,328.1 L782.8,323.8 L783.1,324.6 L783.5,324.4 L783.9,324.0 L784.3,323.5 L784.7,320.5 L785.0,320.6 L785.4,314.9 L785.8,318.1 L786.2,316.4 L786.6,318.1 L787.0,318.6 L787.4,324.2 L787.8,326.6 L788.1,326.7 L788.5,334.4 L788.9,337.3 L789.3,336.9 L789.6,336.7 L790.0,335.4 L790.3,338.7 L790.6,334.4 L791.0,335.2 L791.3,334.2 L791.6,333.8 L792.0,335.4 L792.3,330.7 L792.7,329.7 L793.0,334.2 L793.4,330.4 L793.8,332.3 L794.1,334.7 L794.5,331.3 L794.8,331.3 L795.2,329.4 L795.5,326.5 L795.9,322.5 L796.2,324.3 L796.5,317.7 L796.8,318.1 L797.2,317.7 L797.5,315.5 L797.8,316.3 L798.1,307.5 L798.5,308.6 L798.8,308.1 L799.1,306.0 L799.5,304.3 L799.8,298.7 L800.2,302.8 L800.6,300.0 L801.0,299.2 L801.3,300.6 L801.7,298.2 L802.0,293.3 L802.4,286.7 L802.7,281.7 L803.1,279.5 L803.4,273.0 L803.8,273.2 L804.1,268.0 L804.4,261.4 L804.8,259.1 L805.1,255.0 L805.4,251.1 L805.7,255.0 L806.0,243.8 L806.4,247.6 L806.7,245.8 L807.0,244.7 L807.4,245.3 L807.7,237.9 L808.0,236.1 L808.3,236.1 L808.6,238.8 L809.0,243.3 L809.3,240.6 L809.6,248.1 L810.0,248.9 L810.3,247.3 L810.6,255.0 L810.9,256.1 L811.2,247.8 L811.6,251.0 L811.9,247.2 L812.2,249.6 L812.6,244.2 L812.9,238.8 L813.2,246.8 L813.6,244.6 L813.9,243.2 L814.2,237.5 L814.5,248.7 L814.9,251.7 L815.2,251.1 L815.6,251.9 L816.0,246.3 L816.3,243.9 L816.7,241.9 L817.1,238.0 L817.5,238.3 L817.8,241.7 L818.1,244.0 L818.5,244.5 L818.8,249.0 L819.1,254.1 L819.5,251.5 L819.8,255.0 L820.1,258.9 L820.5,258.0 L820.8,258.5 L821.1,262.8 L821.4,260.6 L821.8,260.3 L822.1,256.6 L822.4,256.3 L822.8,258.8 L823.2,256.9 L823.5,256.5 L823.9,256.5 L824.3,260.2 L824.6,258.5 L825.0,261.1 L825.3,262.7 L825.6,267.7 L826.0,263.9 L826.3,264.1 L826.7,265.2 L827.1,269.2 L827.4,264.9 L827.8,267.0 L828.2,268.0 L828.5,269.1 L828.9,271.8 L829.2,268.4 L829.6,272.7 L829.9,271.9 L830.2,268.5 L830.5,265.5 L830.9,260.6 L831.2,259.0 L831.5,255.0 L831.8,251.2 L832.1,248.4 L832.5,247.6 L832.8,241.9 L833.1,242.1 L833.5,246.5 L833.8,246.3 L834.1,247.2 L834.5,249.0 L834.9,244.0 L835.2,245.5 L835.6,245.1 L836.0,243.2 L836.3,241.9 L836.7,239.4 L837.0,241.9 L837.3,241.7 L837.7,243.2 L838.0,239.3 L838.3,238.3 L838.7,244.7 L839.0,244.0 L839.3,244.5 L839.7,243.4 L840.0,247.2 L840.4,252.5 L840.8,249.9 L841.1,254.3 L841.5,252.3 L841.9,256.3 L842.2,258.0 L842.6,256.9 L842.9,259.9 L843.2,262.5 L843.6,265.1 L843.9,262.8 L844.2,264.0 L844.5,265.0 L844.9,268.5 L845.2,268.0 L845.5,267.9 L845.9,272.3 L846.2,270.7 L846.5,274.5 L846.9,273.9 L847.3,279.9 L847.6,280.0 L848.0,279.5 L848.4,279.7 L848.7,284.3 L849.0,279.7 L849.4,284.6 L849.7,287.5 L850.0,285.3 L850.4,277.3 L850.7,278.0 L851.0,275.8 L851.3,270.9 L851.6,263.4 L852.0,267.6 L852.3,261.5 L852.6,261.5 L853.0,258.6 L853.3,258.0 L853.6,256.1 L854.0,257.8 L854.3,255.0 L854.7,253.0 L855.1,250.0 L855.4,252.3 L855.8,250.6 L856.2,248.5 L856.5,250.1 L856.9,257.7 L857.2,257.3 L857.5,256.3 L857.8,257.1 L858.2,263.0 L858.5,262.6 L858.8,259.6 L859.2,261.7 L859.5,265.4 L859.9,266.4 L860.3,267.3 L860.6,276.3 L861.0,272.9 L861.4,275.8 L861.8,280.3 L862.1,280.3 L862.4,279.0 L862.8,281.0 L863.2,279.5 L863.6,279.1 L863.9,276.1 L864.3,272.4 L864.7,270.6 L865.0,267.2 L865.4,264.1 L865.7,268.6 L866.0,264.1 L866.3,264.5 L866.6,262.9 L867.0,274.4 L867.3,271.9 L867.6,277.2 L868.0,274.2 L868.3,278.3 L868.6,279.1 L869.0,276.6 L869.3,279.7 L869.7,281.2 L870.0,281.1 L870.4,283.5 L870.8,285.9 L871.2,285.2 L871.5,284.2 L871.9,284.9 L872.3,282.6 L872.7,278.4 L873.0,273.6 L873.4,274.2 L873.8,269.3 L874.2,265.8 L874.5,264.4 L874.9,265.2 L875.2,269.5 L875.6,263.2 L875.9,260.7 L876.3,261.4 L876.6,258.8 L877.0,259.9 L877.3,258.4 L877.6,261.2 L878.0,256.1 L878.3,259.3 L878.6,262.2 L879.0,261.4 L879.3,261.8 L879.6,268.3 L880.0,270.0 L880.3,269.6 L880.7,270.6 L881.1,262.1 L881.5,264.2 L881.8,263.5 L882.2,259.5 L882.6,256.0 L883.0,255.3 L883.4,257.3 L883.8,252.2 L884.1,253.5 L884.5,246.2 L884.8,252.1 L885.1,248.6 L885.5,249.1 L885.8,247.7 L886.2,252.6 L886.5,244.9 L886.8,244.9 L887.2,246.2 L887.5,245.0 L887.9,243.2 L888.2,245.6 L888.5,242.7 L888.9,238.1 L889.2,238.9 L889.6,236.8 L889.9,236.7 L890.3,238.9 L890.6,228.7 L890.9,229.7 L891.3,228.3 L891.6,226.6 L891.9,225.0 L892.3,219.6 L892.6,217.1 L892.9,220.2 L893.3,216.2 L893.6,212.3 L893.9,206.3 L894.3,192.7 L894.6,178.2 L895.0,178.4 L895.3,175.1 L895.7,170.9 L896.0,171.8 L896.4,170.6 L896.7,165.9 L897.0,159.1 L897.3,150.2 L897.6,146.8 L897.9,153.4 L898.3,151.9 L898.6,154.2 L898.9,156.9 L899.2,157.4 L899.6,156.1 L899.9,151.0 L900.3,151.4 L900.6,149.1 L901.0,145.7 L901.3,139.1 L901.7,136.3 L902.1,136.5 L902.4,145.6 L902.8,146.9 L903.1,147.7 L903.5,144.5 L903.8,147.0 L904.2,141.5 L904.5,142.4 L904.9,138.3 L905.2,136.6 L905.6,132.3 L905.9,130.8 L906.2,123.0 L906.5,120.6 L906.9,122.9 L907.3,137.9 L907.7,140.0 L908.0,142.0 L908.4,146.9 L908.8,151.2 L909.2,152.2 L909.6,156.9 L910.0,161.4 L910.3,157.8 L910.7,160.3 L911.1,155.4 L911.4,153.8 L911.8,152.5 L912.1,150.2 L912.5,149.7 L912.8,146.7 L913.2,144.6 L913.5,142.4 L913.8,141.1 L914.1,143.2 L914.5,144.6 L914.8,139.6 L915.1,143.5 L915.4,139.7 L915.8,142.8 L916.1,136.0 L916.5,133.9 L916.8,132.3 L917.1,130.9 L917.5,129.7 L917.8,129.0 L918.2,131.0 L918.5,129.0 L918.9,131.0 L919.2,127.8 L919.6,126.8 L919.9,128.6 L920.3,128.6 L920.6,132.9 L921.0,137.0 L921.3,135.7 L921.6,136.5 L922.0,134.3 L922.3,141.8 L922.7,143.5 L923.0,143.5 L923.4,141.4 L923.7,145.7 L924.1,146.9 L924.5,149.8 L924.8,151.0 L925.2,154.7 L925.6,156.2 L925.9,152.4 L926.3,157.3 L926.7,161.3 L927.0,155.6 L927.4,159.2 L927.8,159.9 L928.1,157.6 L928.5,160.9 L928.8,159.4 L929.1,160.6 L929.5,162.1 L929.9,160.7 L930.2,161.4 L930.5,162.6 L930.9,164.7 L931.2,162.6 L931.5,161.0 L931.8,164.2 L932.2,163.6 L932.5,165.9 L932.9,171.6 L933.2,173.5 L933.6,178.2 L934.0,186.2 L934.4,193.2 L934.8,198.3 L935.2,198.2 L935.5,194.3 L935.9,193.4 L936.3,195.3 L936.6,195.0 L937.0,193.8 L937.4,197.8 L937.7,202.0 L938.1,202.7 L938.5,199.0 L938.8,197.8 L939.2,195.0 L939.6,190.5 L939.9,185.8 L940.3,187.1 L940.6,188.0 L941.0,189.5 L941.3,192.6 L941.6,189.4 L941.9,191.7 L942.3,195.8 L942.6,196.0 L943.0,193.6 L943.3,199.0 L943.7,200.0 L944.1,201.5 L944.4,197.7 L944.8,200.5 L945.2,203.1 L945.5,207.3 L945.9,204.2 L946.3,211.3 L946.6,211.8 L947.0,213.9 L947.3,209.4 L947.7,207.9 L948.0,202.2 L948.3,203.8 L948.6,199.1 L949.0,195.2 L949.3,193.8 L949.7,192.2 L950.0,188.0 L950.4,184.9 L950.8,180.5 L951.1,175.4 L951.5,171.5 L951.9,167.3 L952.2,171.3 L952.6,162.3 L953.0,158.6 L953.3,159.5 L953.7,158.1 L954.0,158.6 L954.4,153.4 L954.7,149.0 L955.1,148.7 L955.4,150.7 L955.8,147.6 L956.1,145.6 L956.4,142.8 L956.7,139.1 L957.0,134.5 L957.4,132.8 L957.8,135.0 L958.1,133.2 L958.5,133.1 L958.9,130.8 L959.3,126.2 L959.6,125.9 L960.0,121.3 L960.3,115.2 L960.7,110.3 L961.1,113.1 L961.5,110.9 L961.8,112.4 L962.2,116.3 L962.6,115.9 L962.9,119.5 L963.2,121.6 L963.5,123.3 L963.9,127.1 L964.3,126.1 L964.6,125.4 L965.0,130.6 L965.4,130.8 L965.8,126.3 L966.1,123.0 L966.5,119.3 L966.8,118.9 L967.2,115.9 L967.6,116.4 L968.0,121.3 L968.3,119.2 L968.7,122.0 L969.1,121.4 L969.4,126.6 L969.7,130.3 L970.0,134.5 L970.4,132.0 L970.8,130.5 L971.1,131.2 L971.5,129.0 L971.9,127.0 L972.3,127.2 L972.7,126.0 L973.0,127.4 L973.4,126.0 L973.8,128.9 L974.2,125.3 L974.5,129.7 L974.9,131.5 L975.2,121.1 L975.6,121.4 L976.0,117.0 L976.4,122.4 L976.7,117.9 L977.1,117.6 L977.5,115.9 L977.8,112.1 L978.1,103.2 L978.4,97.2 L978.7,93.7 L979.0,93.4 L979.3,86.1 L979.6,82.3 L979.9,74.0 L980.2,74.9 L980.5,78.5 L980.9,87.6 L981.2,87.9 L981.5,88.8 L981.8,91.7" fill="none" stroke="#737373" stroke-width="2.35" stroke-dasharray="6.5,2.2" stroke-linejoin="round"/><line x1="911.60" y1="491.6" x2="911.60" y2="54.2" stroke="#f3c9d0" stroke-width="3.4" opacity="0.6"/><line x1="911.60" y1="491.6" x2="911.60" y2="54.2" stroke="#a02238" stroke-width="1.7" stroke-dasharray="4.8,2.27"/><g font-family="Liberation Sans, sans-serif" fill="#262626" stroke="#262626" stroke-width="0.25"><text transform="translate(141.70,501.4) scale(1,1.1)" text-anchor="middle" font-size="9">01/01/19</text><text transform="translate(269.90,501.4) scale(1,1.1)" text-anchor="middle" font-size="9">01/01/20</text><text transform="translate(398.45,501.4) scale(1,1.1)" text-anchor="middle" font-size="9">01/01/21</text><text transform="translate(526.65,501.4) scale(1,1.1)" text-anchor="middle" font-size="9">01/01/22</text><text transform="translate(654.85,501.4) scale(1,1.1)" text-anchor="middle" font-size="9">01/01/23</text><text transform="translate(783.05,501.4) scale(1,1.1)" text-anchor="middle" font-size="9">01/01/24</text><text transform="translate(911.60,501.4) scale(1,1.1)" text-anchor="middle" font-size="9">01/01/25</text><text transform="translate(58.8,475.40) scale(1,1.1)" text-anchor="end" font-size="9">0</text><text transform="translate(58.8,423.51) scale(1,1.1)" text-anchor="end" font-size="9">2500</text><text transform="translate(58.8,371.62) scale(1,1.1)" text-anchor="end" font-size="9">5000</text><text transform="translate(58.8,319.74) scale(1,1.1)" text-anchor="end" font-size="9">7500</text><text transform="translate(58.8,267.85) scale(1,1.1)" text-anchor="end" font-size="9">10000</text><text transform="translate(58.8,215.96) scale(1,1.1)" text-anchor="end" font-size="9">12500</text><text transform="translate(58.8,164.07) scale(1,1.1)" text-anchor="end" font-size="9">15000</text><text transform="translate(58.8,112.19) scale(1,1.1)" text-anchor="end" font-size="9">17500</text><text transform="translate(58.8,60.30) scale(1,1.1)" text-anchor="end" font-size="9">20000</text></g><text font-family="Liberation Sans, sans-serif" fill="#262626" stroke="#262626" stroke-width="0.25" x="543.6" y="514.6" text-anchor="middle" font-size="10.1">Data</text><text font-family="Liberation Sans, sans-serif" fill="#262626" stroke="#262626" stroke-width="0.25" transform="translate(29.2,272.4) rotate(-90)" text-anchor="middle" font-size="12.5">Performance (Base 1)</text><text font-family="Liberation Sans, sans-serif" fill="#262626" stroke="#262626" stroke-width="0.3" x="543.8" y="36.2" text-anchor="middle" font-size="17.3" textLength="434" lengthAdjust="spacingAndGlyphs">Performance da Estratégia vs. Buy &amp; Hold - BTCUSDT</text><g font-family="Liberation Sans, sans-serif" fill="#262626"><line x1="69.6" y1="66.8" x2="91" y2="66.8" stroke="#1bb3e8" stroke-width="2.6"/><line x1="69.6" y1="81.4" x2="91" y2="81.4" stroke="#6f6f6f" stroke-width="2" stroke-dasharray="6.8,2.6"/><line x1="69.6" y1="95.9" x2="91" y2="95.9" stroke="#b0243a" stroke-width="1.7" stroke-dasharray="4.7,2.3"/><text x="97.3" y="70.6" font-size="9.8" stroke="#262626" stroke-width="0.2">Retorno da Estratégia</text><text x="97.3" y="85.2" font-size="9.8" stroke="#262626" stroke-width="0.2">Retorno do Ativo (Buy &amp; Hold)</text><text x="97.3" y="99.7" font-size="9.8" stroke="#262626" stroke-width="0.2">Início Out-of-Sample</text></g></svg></body></html>
